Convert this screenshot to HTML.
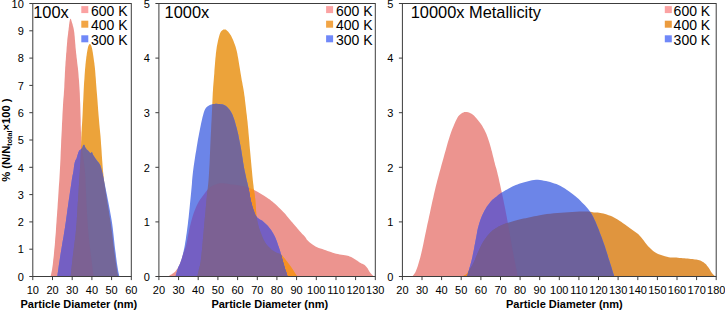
<!DOCTYPE html>
<html><head><meta charset="utf-8"><title>Particle size distributions</title>
<style>
html,body{margin:0;padding:0;background:#fff;}
body{width:725px;height:310px;overflow:hidden;font-family:"Liberation Sans",sans-serif;}
svg{display:block;}
</style></head><body>
<svg width="725" height="310" viewBox="0 0 725 310" font-family="'Liberation Sans', sans-serif">
<rect x="0" y="0" width="725" height="310" fill="#ffffff"/>
<defs>
<clipPath id="cr1"><path d="M50.5,276.5 L50.7,275.9 L50.9,275.0 L51.2,274.0 L51.4,272.8 L51.7,271.5 L52.0,270.0 L52.2,268.4 L52.5,266.6 L52.8,264.6 L53.0,262.5 L53.2,260.3 L53.5,258.0 L53.8,255.6 L54.0,253.1 L54.2,250.5 L54.5,247.8 L54.8,244.9 L55.0,242.0 L55.2,238.9 L55.5,235.7 L55.8,232.4 L56.0,229.0 L56.2,225.5 L56.5,222.0 L56.7,218.5 L57.0,215.1 L57.2,211.6 L57.5,208.0 L57.7,204.2 L58.0,200.0 L58.3,195.5 L58.6,190.8 L58.9,185.8 L59.3,180.7 L59.6,175.4 L59.9,170.0 L60.2,164.4 L60.5,158.5 L60.7,152.5 L61.0,146.5 L61.2,140.6 L61.5,135.0 L61.8,129.5 L62.0,124.1 L62.3,118.8 L62.5,113.7 L62.8,109.1 L63.0,105.0 L63.2,101.7 L63.4,99.1 L63.6,96.9 L63.8,94.8 L63.9,92.6 L64.1,90.0 L64.3,86.9 L64.4,83.4 L64.6,79.8 L64.8,76.3 L64.9,72.9 L65.1,70.0 L65.2,67.5 L65.4,65.3 L65.5,63.3 L65.6,61.5 L65.8,59.7 L65.9,58.0 L66.0,56.3 L66.1,54.8 L66.2,53.3 L66.4,51.9 L66.5,50.4 L66.6,48.8 L66.7,47.1 L66.9,45.2 L67.0,43.4 L67.2,41.5 L67.3,39.7 L67.5,38.0 L67.7,36.4 L67.9,34.9 L68.1,33.5 L68.2,32.1 L68.4,30.7 L68.6,29.4 L68.7,28.1 L68.9,26.9 L69.0,25.6 L69.1,24.5 L69.3,23.5 L69.4,22.5 L69.6,21.6 L69.7,20.7 L69.9,20.0 L70.1,19.3 L70.3,18.9 L70.5,18.7 L70.7,18.8 L70.9,19.1 L71.1,19.6 L71.3,20.3 L71.5,21.1 L71.8,22.0 L72.1,23.0 L72.5,24.1 L72.8,25.4 L73.2,26.7 L73.5,28.0 L73.8,29.4 L74.0,30.7 L74.2,32.1 L74.4,33.5 L74.5,34.9 L74.7,36.4 L74.8,38.0 L74.9,39.6 L75.1,41.4 L75.2,43.1 L75.4,45.0 L75.5,46.9 L75.7,48.8 L75.9,50.8 L76.1,53.0 L76.4,55.2 L76.6,57.4 L76.9,59.6 L77.1,61.6 L77.3,63.4 L77.5,65.0 L77.7,66.5 L77.9,68.1 L78.1,69.9 L78.3,72.0 L78.5,74.5 L78.7,77.4 L79.0,80.4 L79.2,83.6 L79.4,86.8 L79.6,90.0 L79.8,93.2 L79.9,96.5 L80.0,99.9 L80.2,103.3 L80.3,106.6 L80.4,110.0 L80.5,113.4 L80.6,116.9 L80.7,120.3 L80.7,123.7 L80.8,127.0 L80.9,130.0 L81.0,132.8 L81.0,135.4 L81.1,137.9 L81.2,140.3 L81.3,142.7 L81.5,145.0 L81.7,147.3 L82.0,149.4 L82.3,151.6 L82.7,153.7 L83.0,155.8 L83.3,158.0 L83.6,160.2 L83.9,162.4 L84.2,164.7 L84.5,167.0 L84.8,169.4 L85.0,172.0 L85.2,174.7 L85.4,177.5 L85.5,180.4 L85.6,183.5 L85.7,186.7 L85.9,190.0 L86.1,193.6 L86.2,197.4 L86.4,201.4 L86.6,205.4 L86.8,209.3 L87.0,213.0 L87.2,216.4 L87.4,219.7 L87.6,222.9 L87.8,226.0 L88.1,229.1 L88.3,232.0 L88.6,234.8 L88.8,237.6 L89.1,240.2 L89.4,242.8 L89.7,245.4 L90.0,248.0 L90.3,250.7 L90.7,253.5 L91.0,256.2 L91.4,258.9 L91.7,261.5 L92.0,264.0 L92.3,266.4 L92.6,268.9 L92.9,271.2 L93.2,273.4 L93.4,275.2 L93.6,276.5 Z"/></clipPath>
<clipPath id="co1"><path d="M70.6,276.5 L70.9,274.2 L71.2,271.1 L71.6,267.3 L72.1,263.2 L72.5,259.0 L73.0,255.0 L73.5,251.1 L74.0,247.1 L74.5,243.0 L75.1,238.8 L75.6,234.5 L76.0,230.0 L76.4,225.2 L76.8,220.2 L77.1,215.0 L77.4,209.8 L77.7,204.8 L78.0,200.0 L78.3,195.5 L78.6,191.3 L78.8,187.2 L79.1,183.1 L79.3,179.1 L79.6,175.0 L79.9,170.7 L80.1,166.3 L80.4,161.9 L80.6,157.6 L80.8,153.6 L81.0,150.0 L81.1,146.9 L81.2,144.3 L81.2,142.0 L81.3,139.8 L81.3,137.5 L81.4,135.0 L81.5,132.4 L81.7,129.9 L81.8,127.3 L82.0,124.6 L82.2,121.5 L82.4,118.0 L82.6,113.9 L82.8,109.2 L83.0,104.2 L83.3,99.1 L83.5,94.3 L83.7,90.0 L83.9,86.1 L84.1,82.4 L84.4,78.9 L84.6,75.6 L84.8,72.7 L85.0,70.0 L85.2,67.7 L85.4,65.8 L85.5,64.2 L85.7,62.8 L85.8,61.4 L86.0,60.0 L86.2,58.6 L86.3,57.3 L86.5,56.1 L86.7,54.9 L86.8,53.7 L87.0,52.6 L87.2,51.5 L87.4,50.3 L87.6,49.3 L87.8,48.2 L88.0,47.3 L88.2,46.5 L88.5,45.8 L88.7,45.2 L89.0,44.7 L89.3,44.3 L89.6,44.0 L89.9,43.9 L90.2,44.0 L90.5,44.3 L90.7,44.7 L91.0,45.2 L91.3,45.8 L91.5,46.5 L91.7,47.3 L92.0,48.2 L92.2,49.2 L92.4,50.3 L92.6,51.4 L92.8,52.6 L93.0,53.9 L93.2,55.2 L93.4,56.6 L93.6,58.1 L93.8,59.5 L94.0,61.0 L94.2,62.3 L94.4,63.5 L94.5,64.8 L94.7,66.2 L94.9,67.9 L95.1,70.0 L95.3,72.6 L95.5,75.5 L95.8,78.7 L96.0,82.2 L96.3,86.0 L96.6,90.0 L97.0,94.5 L97.4,99.6 L97.8,105.0 L98.2,110.4 L98.6,115.5 L99.0,120.0 L99.3,123.8 L99.6,127.0 L99.9,129.9 L100.2,132.9 L100.5,136.1 L100.8,140.0 L101.1,144.6 L101.5,149.7 L101.8,155.1 L102.2,160.6 L102.6,166.0 L103.0,171.0 L103.5,175.6 L104.0,180.0 L104.6,184.2 L105.2,188.4 L105.8,192.6 L106.5,197.0 L107.2,201.6 L108.0,206.2 L108.8,210.9 L109.5,215.7 L110.3,220.4 L111.0,225.0 L111.6,229.7 L112.3,234.5 L112.8,239.2 L113.4,243.9 L113.9,248.1 L114.4,252.0 L114.9,255.4 L115.3,258.4 L115.7,261.2 L116.0,263.6 L116.4,265.9 L116.7,268.0 L117.0,269.9 L117.3,271.7 L117.6,273.2 L117.9,274.6 L118.1,275.7 L118.3,276.5 Z"/></clipPath>
<clipPath id="cr2"><path d="M167.8,276.5 L168.0,276.4 L168.4,276.2 L168.8,275.9 L169.2,275.7 L169.6,275.4 L170.0,275.2 L170.4,275.0 L170.7,274.8 L171.1,274.6 L171.4,274.4 L171.8,274.2 L172.2,273.9 L172.6,273.6 L173.1,273.3 L173.6,273.0 L174.0,272.6 L174.5,272.3 L174.9,271.9 L175.3,271.5 L175.7,271.0 L176.0,270.6 L176.4,270.1 L176.7,269.6 L177.0,269.2 L177.3,268.9 L177.5,268.6 L177.6,268.3 L177.8,268.0 L178.0,267.6 L178.3,267.1 L178.6,266.5 L179.0,265.7 L179.3,264.9 L179.7,264.0 L180.1,263.0 L180.5,262.0 L180.9,260.9 L181.3,259.8 L181.7,258.5 L182.1,257.3 L182.5,255.9 L183.0,254.5 L183.5,253.0 L184.0,251.5 L184.6,249.9 L185.2,248.3 L185.7,246.5 L186.2,244.7 L186.7,242.8 L187.1,240.8 L187.5,238.7 L187.9,236.5 L188.3,234.2 L188.8,231.9 L189.3,229.4 L189.9,226.8 L190.5,224.2 L191.2,221.5 L191.9,218.9 L192.6,216.4 L193.4,214.0 L194.2,211.7 L195.1,209.5 L196.0,207.3 L196.9,205.3 L197.8,203.5 L198.6,201.9 L199.5,200.6 L200.3,199.3 L201.1,198.2 L202.0,197.0 L202.9,195.8 L203.9,194.5 L205.0,193.1 L206.1,191.6 L207.2,190.3 L208.3,189.1 L209.4,188.0 L210.5,187.1 L211.5,186.4 L212.6,185.8 L213.7,185.3 L214.7,184.8 L215.8,184.4 L216.8,184.0 L217.8,183.7 L218.8,183.5 L219.8,183.3 L220.9,183.2 L222.0,183.2 L223.2,183.2 L224.5,183.4 L225.9,183.6 L227.3,183.8 L228.6,184.0 L230.0,184.2 L231.3,184.4 L232.6,184.5 L233.9,184.7 L235.2,184.8 L236.6,185.1 L238.0,185.3 L239.5,185.6 L241.2,185.9 L242.9,186.3 L244.6,186.6 L246.2,187.0 L247.8,187.5 L249.2,188.0 L250.6,188.5 L251.9,189.0 L253.2,189.6 L254.6,190.3 L256.0,191.0 L257.5,191.8 L259.1,192.7 L260.8,193.7 L262.4,194.7 L264.1,195.7 L265.6,196.7 L267.1,197.7 L268.5,198.7 L269.8,199.6 L271.2,200.7 L272.6,201.8 L274.0,203.0 L275.5,204.3 L277.1,205.8 L278.8,207.4 L280.4,208.9 L281.9,210.4 L283.3,211.9 L284.6,213.3 L285.7,214.6 L286.8,215.9 L287.9,217.2 L288.9,218.5 L290.0,219.8 L291.2,221.2 L292.4,222.6 L293.6,224.0 L294.7,225.3 L295.8,226.5 L296.7,227.6 L297.4,228.5 L298.0,229.1 L298.5,229.7 L298.9,230.2 L299.4,230.8 L300.0,231.5 L300.8,232.3 L301.6,233.2 L302.5,234.2 L303.4,235.1 L304.3,236.0 L305.0,236.8 L305.5,237.5 L305.9,238.1 L306.2,238.6 L306.5,239.2 L307.0,239.8 L307.7,240.5 L308.7,241.4 L309.8,242.4 L311.1,243.5 L312.5,244.6 L314.0,245.6 L315.5,246.5 L317.1,247.3 L318.7,247.9 L320.5,248.6 L322.3,249.1 L324.1,249.7 L325.8,250.3 L327.5,250.9 L329.2,251.5 L330.9,252.1 L332.7,252.7 L334.4,253.2 L336.1,253.7 L337.9,254.1 L339.7,254.4 L341.6,254.7 L343.4,254.9 L345.0,255.2 L346.5,255.5 L347.7,255.8 L348.7,256.1 L349.6,256.4 L350.4,256.8 L351.2,257.1 L352.0,257.5 L352.9,257.9 L353.7,258.4 L354.5,258.9 L355.3,259.4 L356.1,259.9 L356.8,260.4 L357.4,260.8 L357.9,261.2 L358.4,261.6 L358.9,262.0 L359.4,262.3 L360.0,262.7 L360.7,263.1 L361.4,263.4 L362.2,263.7 L362.9,264.0 L363.7,264.4 L364.3,264.8 L364.9,265.2 L365.4,265.7 L365.8,266.2 L366.3,266.7 L366.7,267.2 L367.1,267.7 L367.5,268.3 L367.9,268.8 L368.2,269.5 L368.5,270.1 L368.9,270.7 L369.2,271.2 L369.5,271.7 L369.9,272.2 L370.2,272.7 L370.5,273.1 L370.9,273.6 L371.3,274.0 L371.8,274.5 L372.3,274.9 L372.9,275.4 L373.4,275.9 L373.9,276.2 L374.2,276.5 Z"/></clipPath>
<clipPath id="co2"><path d="M197.3,276.5 L197.5,275.7 L197.7,274.6 L198.0,273.4 L198.3,272.0 L198.7,270.5 L199.0,269.0 L199.3,267.8 L199.6,266.8 L199.9,265.8 L200.2,264.4 L200.6,262.2 L201.0,259.0 L201.5,254.4 L202.1,248.6 L202.7,242.1 L203.3,235.4 L203.9,228.8 L204.4,223.0 L204.9,217.8 L205.4,212.8 L205.8,208.0 L206.2,203.4 L206.6,199.1 L207.0,195.0 L207.4,191.4 L207.7,188.5 L208.0,185.8 L208.3,182.9 L208.6,179.4 L208.9,175.0 L209.2,169.4 L209.6,162.7 L209.9,155.5 L210.2,148.2 L210.5,141.2 L210.8,135.0 L211.1,129.5 L211.3,124.3 L211.6,119.4 L211.8,114.9 L212.0,110.7 L212.2,107.0 L212.3,103.8 L212.4,101.2 L212.5,98.9 L212.6,96.8 L212.7,94.8 L212.8,92.5 L213.0,90.1 L213.1,87.7 L213.3,85.2 L213.5,82.8 L213.7,80.4 L213.9,78.0 L214.1,75.6 L214.3,73.2 L214.4,70.8 L214.6,68.3 L214.8,65.9 L215.0,63.5 L215.2,61.0 L215.4,58.6 L215.7,56.1 L215.9,53.6 L216.2,51.2 L216.5,49.0 L216.8,46.8 L217.2,44.7 L217.6,42.7 L218.0,40.7 L218.4,39.0 L218.8,37.4 L219.2,36.0 L219.5,34.9 L219.8,33.9 L220.2,33.0 L220.6,32.2 L221.0,31.5 L221.5,30.9 L222.1,30.4 L222.7,29.9 L223.4,29.6 L224.0,29.5 L224.6,29.4 L225.2,29.5 L225.7,29.6 L226.3,29.9 L226.8,30.4 L227.4,30.9 L228.0,31.5 L228.6,32.2 L229.2,33.0 L229.9,33.9 L230.6,34.9 L231.2,36.0 L231.9,37.4 L232.6,39.0 L233.4,40.7 L234.1,42.7 L234.9,44.7 L235.6,46.8 L236.2,49.0 L236.8,51.2 L237.3,53.6 L237.7,56.1 L238.2,58.6 L238.6,61.0 L239.0,63.5 L239.4,65.9 L239.8,68.3 L240.2,70.8 L240.6,73.2 L241.0,75.6 L241.4,78.0 L241.8,80.4 L242.3,82.8 L242.7,85.2 L243.2,87.7 L243.6,90.1 L244.0,92.5 L244.3,94.9 L244.7,97.2 L244.9,99.5 L245.2,101.9 L245.5,104.4 L245.8,107.0 L246.1,109.7 L246.4,112.5 L246.8,115.3 L247.1,118.4 L247.5,121.6 L247.8,125.0 L248.2,128.8 L248.5,132.8 L248.9,137.1 L249.3,141.4 L249.6,145.8 L250.0,150.0 L250.4,154.3 L250.8,158.7 L251.2,163.1 L251.6,167.4 L252.0,171.4 L252.3,175.0 L252.6,178.1 L252.9,180.9 L253.2,183.4 L253.5,185.7 L253.7,187.9 L254.0,190.0 L254.2,191.9 L254.5,193.5 L254.7,194.9 L254.9,196.3 L255.1,198.0 L255.3,200.0 L255.5,202.5 L255.7,205.3 L255.9,208.3 L256.1,211.3 L256.3,214.2 L256.6,216.8 L256.9,219.0 L257.3,221.0 L257.7,222.8 L258.1,224.6 L258.6,226.5 L259.2,228.4 L259.9,230.5 L260.7,232.8 L261.6,235.1 L262.5,237.3 L263.4,239.4 L264.4,241.3 L265.4,242.9 L266.5,244.4 L267.6,245.8 L268.7,247.0 L269.8,248.1 L270.8,249.1 L271.7,249.9 L272.6,250.6 L273.5,251.1 L274.3,251.6 L275.1,252.0 L276.0,252.5 L276.9,252.9 L277.7,253.2 L278.6,253.5 L279.5,253.8 L280.3,254.2 L281.2,254.8 L282.1,255.6 L282.9,256.5 L283.7,257.5 L284.6,258.5 L285.4,259.6 L286.3,260.7 L287.2,261.8 L288.0,262.9 L288.9,264.1 L289.8,265.3 L290.7,266.5 L291.5,267.7 L292.4,269.0 L293.2,270.3 L294.1,271.7 L294.9,273.0 L295.6,274.1 L296.2,275.0 L296.6,275.6 L296.9,276.0 L297.1,276.2 L297.3,276.3 L297.4,276.4 L297.5,276.5 Z"/></clipPath>
<clipPath id="cr3"><path d="M412.3,276.5 L412.7,276.0 L413.2,275.3 L413.9,274.6 L414.6,273.5 L415.4,272.2 L416.1,270.6 L416.9,268.6 L417.7,266.2 L418.5,263.6 L419.3,260.7 L420.2,257.7 L421.0,254.5 L421.8,251.1 L422.6,247.5 L423.4,243.7 L424.2,239.7 L425.0,235.8 L425.8,232.0 L426.6,228.2 L427.4,224.3 L428.3,220.4 L429.1,216.6 L429.9,212.9 L430.6,209.4 L431.3,206.2 L432.0,203.1 L432.6,200.2 L433.3,197.4 L433.9,194.6 L434.5,192.0 L435.1,189.5 L435.6,187.3 L436.1,185.2 L436.7,183.0 L437.3,180.6 L438.0,178.0 L438.8,175.0 L439.6,171.9 L440.6,168.5 L441.5,165.1 L442.5,161.5 L443.5,158.0 L444.5,154.3 L445.6,150.4 L446.7,146.5 L447.8,142.6 L448.9,138.9 L450.0,135.5 L451.1,132.3 L452.2,129.3 L453.4,126.4 L454.5,123.8 L455.5,121.4 L456.5,119.4 L457.4,117.8 L458.1,116.6 L458.8,115.7 L459.5,115.0 L460.2,114.4 L461.0,113.8 L461.8,113.2 L462.6,112.7 L463.5,112.4 L464.3,112.1 L465.2,111.9 L466.1,111.9 L467.0,112.0 L468.0,112.2 L469.0,112.5 L470.0,112.9 L471.0,113.4 L472.0,114.0 L472.9,114.7 L473.9,115.5 L474.8,116.4 L475.7,117.4 L476.6,118.4 L477.4,119.4 L478.2,120.4 L479.0,121.4 L479.8,122.4 L480.6,123.4 L481.3,124.5 L482.0,125.6 L482.7,126.7 L483.3,127.9 L484.0,129.0 L484.6,130.3 L485.2,131.5 L485.8,132.8 L486.4,134.1 L486.9,135.5 L487.5,137.0 L488.0,138.4 L488.5,140.0 L489.0,141.5 L489.5,143.1 L490.0,144.8 L490.5,146.5 L491.0,148.2 L491.4,149.9 L491.9,151.6 L492.3,153.2 L492.7,154.9 L493.1,156.5 L493.5,158.1 L493.9,159.8 L494.3,161.5 L494.8,163.2 L495.2,165.0 L495.7,166.7 L496.3,168.5 L496.8,170.5 L497.3,172.5 L497.8,174.7 L498.4,176.9 L498.9,179.2 L499.4,181.7 L500.0,184.3 L500.6,187.0 L501.2,189.9 L501.9,193.0 L502.6,196.2 L503.3,199.5 L503.9,202.8 L504.6,206.0 L505.2,209.1 L505.8,212.2 L506.4,215.3 L507.0,218.4 L507.6,221.7 L508.2,225.0 L508.8,228.6 L509.5,232.3 L510.1,236.1 L510.8,239.9 L511.4,243.6 L512.0,247.0 L512.6,250.2 L513.2,253.2 L513.7,256.1 L514.3,258.9 L514.8,261.5 L515.3,264.0 L515.8,266.5 L516.3,269.0 L516.8,271.3 L517.2,273.4 L517.5,275.2 L517.8,276.5 Z"/></clipPath>
<clipPath id="co3"><path d="M462.0,276.5 L462.5,276.3 L463.1,276.0 L463.8,275.7 L464.6,275.3 L465.4,274.9 L466.0,274.5 L466.5,274.1 L466.9,273.7 L467.2,273.4 L467.5,272.9 L468.0,272.2 L468.5,271.4 L469.2,270.3 L470.0,269.1 L470.8,267.8 L471.7,266.3 L472.6,264.7 L473.5,263.0 L474.3,261.2 L475.2,259.2 L476.0,257.1 L476.9,255.0 L477.7,252.9 L478.6,251.0 L479.4,249.2 L480.2,247.5 L481.1,245.8 L481.9,244.1 L482.8,242.6 L483.7,241.0 L484.7,239.5 L485.8,237.9 L486.9,236.4 L488.1,235.0 L489.3,233.7 L490.4,232.5 L491.5,231.4 L492.5,230.5 L493.6,229.7 L494.7,228.9 L495.9,228.2 L497.2,227.4 L498.7,226.6 L500.3,225.8 L502.0,225.1 L503.8,224.3 L505.6,223.6 L507.3,223.0 L509.0,222.4 L510.6,221.9 L512.2,221.4 L513.9,220.9 L515.7,220.5 L517.5,220.0 L519.4,219.5 L521.4,219.1 L523.5,218.6 L525.7,218.2 L527.8,217.8 L530.0,217.3 L532.1,216.8 L534.2,216.3 L536.4,215.9 L538.6,215.4 L541.1,214.9 L543.8,214.5 L546.9,214.1 L550.3,213.7 L553.9,213.3 L557.5,213.0 L561.2,212.7 L564.8,212.4 L568.4,212.2 L572.2,211.9 L576.0,211.8 L579.7,211.6 L582.9,211.5 L585.7,211.5 L587.8,211.5 L589.4,211.7 L590.7,211.8 L591.7,212.0 L592.8,212.2 L594.0,212.4 L595.3,212.5 L596.5,212.6 L597.8,212.6 L599.0,212.7 L600.4,212.9 L601.8,213.2 L603.4,213.6 L605.1,214.0 L606.8,214.6 L608.6,215.2 L610.4,215.8 L612.2,216.6 L614.0,217.5 L615.8,218.5 L617.6,219.6 L619.4,220.7 L621.1,221.8 L622.7,222.9 L624.2,223.9 L625.7,224.9 L627.0,225.9 L628.4,227.0 L629.7,228.0 L631.1,229.0 L632.5,230.0 L633.9,231.0 L635.3,231.9 L636.7,233.0 L638.1,234.1 L639.5,235.4 L640.9,237.0 L642.3,238.7 L643.7,240.6 L645.1,242.5 L646.5,244.3 L647.9,245.9 L649.2,247.3 L650.5,248.6 L651.8,249.8 L653.1,251.0 L654.6,252.0 L656.2,253.0 L658.1,253.9 L660.3,254.8 L662.6,255.5 L664.9,256.2 L667.0,256.8 L668.8,257.2 L670.2,257.5 L671.2,257.6 L672.1,257.6 L672.9,257.5 L673.9,257.5 L675.0,257.5 L676.4,257.6 L677.9,257.7 L679.5,257.9 L681.2,258.0 L682.8,258.2 L684.4,258.3 L686.0,258.4 L687.6,258.6 L689.2,258.7 L690.8,258.9 L692.3,259.0 L693.7,259.2 L695.0,259.4 L696.2,259.6 L697.3,259.8 L698.3,260.0 L699.3,260.3 L700.3,260.6 L701.2,261.0 L702.1,261.4 L702.9,261.9 L703.6,262.3 L704.3,262.9 L705.0,263.4 L705.6,264.0 L706.2,264.6 L706.7,265.2 L707.2,265.9 L707.7,266.6 L708.2,267.2 L708.7,267.8 L709.1,268.5 L709.5,269.1 L709.9,269.7 L710.2,270.3 L710.6,270.9 L710.9,271.4 L711.2,271.9 L711.5,272.4 L711.8,272.8 L712.1,273.2 L712.5,273.7 L712.9,274.2 L713.5,274.7 L714.0,275.3 L714.5,275.8 L715.0,276.2 L715.3,276.5 Z"/></clipPath>
</defs>
<path d="M50.5,276.5 L50.7,275.9 L50.9,275.0 L51.2,274.0 L51.4,272.8 L51.7,271.5 L52.0,270.0 L52.2,268.4 L52.5,266.6 L52.8,264.6 L53.0,262.5 L53.2,260.3 L53.5,258.0 L53.8,255.6 L54.0,253.1 L54.2,250.5 L54.5,247.8 L54.8,244.9 L55.0,242.0 L55.2,238.9 L55.5,235.7 L55.8,232.4 L56.0,229.0 L56.2,225.5 L56.5,222.0 L56.7,218.5 L57.0,215.1 L57.2,211.6 L57.5,208.0 L57.7,204.2 L58.0,200.0 L58.3,195.5 L58.6,190.8 L58.9,185.8 L59.3,180.7 L59.6,175.4 L59.9,170.0 L60.2,164.4 L60.5,158.5 L60.7,152.5 L61.0,146.5 L61.2,140.6 L61.5,135.0 L61.8,129.5 L62.0,124.1 L62.3,118.8 L62.5,113.7 L62.8,109.1 L63.0,105.0 L63.2,101.7 L63.4,99.1 L63.6,96.9 L63.8,94.8 L63.9,92.6 L64.1,90.0 L64.3,86.9 L64.4,83.4 L64.6,79.8 L64.8,76.3 L64.9,72.9 L65.1,70.0 L65.2,67.5 L65.4,65.3 L65.5,63.3 L65.6,61.5 L65.8,59.7 L65.9,58.0 L66.0,56.3 L66.1,54.8 L66.2,53.3 L66.4,51.9 L66.5,50.4 L66.6,48.8 L66.7,47.1 L66.9,45.2 L67.0,43.4 L67.2,41.5 L67.3,39.7 L67.5,38.0 L67.7,36.4 L67.9,34.9 L68.1,33.5 L68.2,32.1 L68.4,30.7 L68.6,29.4 L68.7,28.1 L68.9,26.9 L69.0,25.6 L69.1,24.5 L69.3,23.5 L69.4,22.5 L69.6,21.6 L69.7,20.7 L69.9,20.0 L70.1,19.3 L70.3,18.9 L70.5,18.7 L70.7,18.8 L70.9,19.1 L71.1,19.6 L71.3,20.3 L71.5,21.1 L71.8,22.0 L72.1,23.0 L72.5,24.1 L72.8,25.4 L73.2,26.7 L73.5,28.0 L73.8,29.4 L74.0,30.7 L74.2,32.1 L74.4,33.5 L74.5,34.9 L74.7,36.4 L74.8,38.0 L74.9,39.6 L75.1,41.4 L75.2,43.1 L75.4,45.0 L75.5,46.9 L75.7,48.8 L75.9,50.8 L76.1,53.0 L76.4,55.2 L76.6,57.4 L76.9,59.6 L77.1,61.6 L77.3,63.4 L77.5,65.0 L77.7,66.5 L77.9,68.1 L78.1,69.9 L78.3,72.0 L78.5,74.5 L78.7,77.4 L79.0,80.4 L79.2,83.6 L79.4,86.8 L79.6,90.0 L79.8,93.2 L79.9,96.5 L80.0,99.9 L80.2,103.3 L80.3,106.6 L80.4,110.0 L80.5,113.4 L80.6,116.9 L80.7,120.3 L80.7,123.7 L80.8,127.0 L80.9,130.0 L81.0,132.8 L81.0,135.4 L81.1,137.9 L81.2,140.3 L81.3,142.7 L81.5,145.0 L81.7,147.3 L82.0,149.4 L82.3,151.6 L82.7,153.7 L83.0,155.8 L83.3,158.0 L83.6,160.2 L83.9,162.4 L84.2,164.7 L84.5,167.0 L84.8,169.4 L85.0,172.0 L85.2,174.7 L85.4,177.5 L85.5,180.4 L85.6,183.5 L85.7,186.7 L85.9,190.0 L86.1,193.6 L86.2,197.4 L86.4,201.4 L86.6,205.4 L86.8,209.3 L87.0,213.0 L87.2,216.4 L87.4,219.7 L87.6,222.9 L87.8,226.0 L88.1,229.1 L88.3,232.0 L88.6,234.8 L88.8,237.6 L89.1,240.2 L89.4,242.8 L89.7,245.4 L90.0,248.0 L90.3,250.7 L90.7,253.5 L91.0,256.2 L91.4,258.9 L91.7,261.5 L92.0,264.0 L92.3,266.4 L92.6,268.9 L92.9,271.2 L93.2,273.4 L93.4,275.2 L93.6,276.5 Z" fill="rgb(236,148,143)"/>
<path d="M70.6,276.5 L70.9,274.2 L71.2,271.1 L71.6,267.3 L72.1,263.2 L72.5,259.0 L73.0,255.0 L73.5,251.1 L74.0,247.1 L74.5,243.0 L75.1,238.8 L75.6,234.5 L76.0,230.0 L76.4,225.2 L76.8,220.2 L77.1,215.0 L77.4,209.8 L77.7,204.8 L78.0,200.0 L78.3,195.5 L78.6,191.3 L78.8,187.2 L79.1,183.1 L79.3,179.1 L79.6,175.0 L79.9,170.7 L80.1,166.3 L80.4,161.9 L80.6,157.6 L80.8,153.6 L81.0,150.0 L81.1,146.9 L81.2,144.3 L81.2,142.0 L81.3,139.8 L81.3,137.5 L81.4,135.0 L81.5,132.4 L81.7,129.9 L81.8,127.3 L82.0,124.6 L82.2,121.5 L82.4,118.0 L82.6,113.9 L82.8,109.2 L83.0,104.2 L83.3,99.1 L83.5,94.3 L83.7,90.0 L83.9,86.1 L84.1,82.4 L84.4,78.9 L84.6,75.6 L84.8,72.7 L85.0,70.0 L85.2,67.7 L85.4,65.8 L85.5,64.2 L85.7,62.8 L85.8,61.4 L86.0,60.0 L86.2,58.6 L86.3,57.3 L86.5,56.1 L86.7,54.9 L86.8,53.7 L87.0,52.6 L87.2,51.5 L87.4,50.3 L87.6,49.3 L87.8,48.2 L88.0,47.3 L88.2,46.5 L88.5,45.8 L88.7,45.2 L89.0,44.7 L89.3,44.3 L89.6,44.0 L89.9,43.9 L90.2,44.0 L90.5,44.3 L90.7,44.7 L91.0,45.2 L91.3,45.8 L91.5,46.5 L91.7,47.3 L92.0,48.2 L92.2,49.2 L92.4,50.3 L92.6,51.4 L92.8,52.6 L93.0,53.9 L93.2,55.2 L93.4,56.6 L93.6,58.1 L93.8,59.5 L94.0,61.0 L94.2,62.3 L94.4,63.5 L94.5,64.8 L94.7,66.2 L94.9,67.9 L95.1,70.0 L95.3,72.6 L95.5,75.5 L95.8,78.7 L96.0,82.2 L96.3,86.0 L96.6,90.0 L97.0,94.5 L97.4,99.6 L97.8,105.0 L98.2,110.4 L98.6,115.5 L99.0,120.0 L99.3,123.8 L99.6,127.0 L99.9,129.9 L100.2,132.9 L100.5,136.1 L100.8,140.0 L101.1,144.6 L101.5,149.7 L101.8,155.1 L102.2,160.6 L102.6,166.0 L103.0,171.0 L103.5,175.6 L104.0,180.0 L104.6,184.2 L105.2,188.4 L105.8,192.6 L106.5,197.0 L107.2,201.6 L108.0,206.2 L108.8,210.9 L109.5,215.7 L110.3,220.4 L111.0,225.0 L111.6,229.7 L112.3,234.5 L112.8,239.2 L113.4,243.9 L113.9,248.1 L114.4,252.0 L114.9,255.4 L115.3,258.4 L115.7,261.2 L116.0,263.6 L116.4,265.9 L116.7,268.0 L117.0,269.9 L117.3,271.7 L117.6,273.2 L117.9,274.6 L118.1,275.7 L118.3,276.5 Z" fill="rgb(236,163,58)"/>
<path d="M70.6,276.5 L70.9,274.2 L71.2,271.1 L71.6,267.3 L72.1,263.2 L72.5,259.0 L73.0,255.0 L73.5,251.1 L74.0,247.1 L74.5,243.0 L75.1,238.8 L75.6,234.5 L76.0,230.0 L76.4,225.2 L76.8,220.2 L77.1,215.0 L77.4,209.8 L77.7,204.8 L78.0,200.0 L78.3,195.5 L78.6,191.3 L78.8,187.2 L79.1,183.1 L79.3,179.1 L79.6,175.0 L79.9,170.7 L80.1,166.3 L80.4,161.9 L80.6,157.6 L80.8,153.6 L81.0,150.0 L81.1,146.9 L81.2,144.3 L81.2,142.0 L81.3,139.8 L81.3,137.5 L81.4,135.0 L81.5,132.4 L81.7,129.9 L81.8,127.3 L82.0,124.6 L82.2,121.5 L82.4,118.0 L82.6,113.9 L82.8,109.2 L83.0,104.2 L83.3,99.1 L83.5,94.3 L83.7,90.0 L83.9,86.1 L84.1,82.4 L84.4,78.9 L84.6,75.6 L84.8,72.7 L85.0,70.0 L85.2,67.7 L85.4,65.8 L85.5,64.2 L85.7,62.8 L85.8,61.4 L86.0,60.0 L86.2,58.6 L86.3,57.3 L86.5,56.1 L86.7,54.9 L86.8,53.7 L87.0,52.6 L87.2,51.5 L87.4,50.3 L87.6,49.3 L87.8,48.2 L88.0,47.3 L88.2,46.5 L88.5,45.8 L88.7,45.2 L89.0,44.7 L89.3,44.3 L89.6,44.0 L89.9,43.9 L90.2,44.0 L90.5,44.3 L90.7,44.7 L91.0,45.2 L91.3,45.8 L91.5,46.5 L91.7,47.3 L92.0,48.2 L92.2,49.2 L92.4,50.3 L92.6,51.4 L92.8,52.6 L93.0,53.9 L93.2,55.2 L93.4,56.6 L93.6,58.1 L93.8,59.5 L94.0,61.0 L94.2,62.3 L94.4,63.5 L94.5,64.8 L94.7,66.2 L94.9,67.9 L95.1,70.0 L95.3,72.6 L95.5,75.5 L95.8,78.7 L96.0,82.2 L96.3,86.0 L96.6,90.0 L97.0,94.5 L97.4,99.6 L97.8,105.0 L98.2,110.4 L98.6,115.5 L99.0,120.0 L99.3,123.8 L99.6,127.0 L99.9,129.9 L100.2,132.9 L100.5,136.1 L100.8,140.0 L101.1,144.6 L101.5,149.7 L101.8,155.1 L102.2,160.6 L102.6,166.0 L103.0,171.0 L103.5,175.6 L104.0,180.0 L104.6,184.2 L105.2,188.4 L105.8,192.6 L106.5,197.0 L107.2,201.6 L108.0,206.2 L108.8,210.9 L109.5,215.7 L110.3,220.4 L111.0,225.0 L111.6,229.7 L112.3,234.5 L112.8,239.2 L113.4,243.9 L113.9,248.1 L114.4,252.0 L114.9,255.4 L115.3,258.4 L115.7,261.2 L116.0,263.6 L116.4,265.9 L116.7,268.0 L117.0,269.9 L117.3,271.7 L117.6,273.2 L117.9,274.6 L118.1,275.7 L118.3,276.5 Z" fill="rgb(246,144,36)" clip-path="url(#cr1)"/>
<path d="M57.3,276.5 L57.5,275.4 L57.6,273.9 L57.9,272.0 L58.2,270.0 L58.5,267.8 L58.8,265.5 L59.2,263.1 L59.6,260.5 L60.0,257.8 L60.4,254.9 L60.9,252.0 L61.4,249.0 L61.9,245.9 L62.4,242.8 L63.0,239.6 L63.6,236.3 L64.1,232.8 L64.7,229.3 L65.2,225.7 L65.8,221.9 L66.3,218.0 L66.9,214.1 L67.4,210.1 L68.0,206.0 L68.6,201.6 L69.3,196.9 L70.0,192.1 L70.7,187.5 L71.3,183.4 L71.8,180.0 L72.2,177.5 L72.5,175.8 L72.8,174.5 L73.0,173.5 L73.2,172.5 L73.4,171.3 L73.6,170.0 L73.8,168.6 L73.9,167.3 L74.1,166.1 L74.2,165.0 L74.4,164.0 L74.6,163.2 L74.7,162.5 L74.9,161.9 L75.1,161.4 L75.2,160.9 L75.4,160.4 L75.6,160.0 L75.8,159.7 L76.0,159.4 L76.2,159.1 L76.4,158.7 L76.6,158.2 L76.8,157.5 L77.1,156.6 L77.3,155.7 L77.6,154.7 L77.9,153.9 L78.1,153.1 L78.3,152.5 L78.5,151.9 L78.8,151.4 L79.0,151.0 L79.2,150.6 L79.5,150.2 L79.8,149.9 L80.2,149.7 L80.6,149.5 L81.0,149.4 L81.4,149.1 L81.7,148.8 L82.0,148.3 L82.2,147.7 L82.5,147.0 L82.7,146.4 L82.9,145.8 L83.1,145.4 L83.3,145.1 L83.5,144.9 L83.7,144.8 L83.9,144.7 L84.1,144.8 L84.3,144.9 L84.5,145.1 L84.6,145.5 L84.8,145.9 L84.9,146.4 L85.1,146.9 L85.3,147.3 L85.5,147.7 L85.8,148.1 L86.0,148.5 L86.3,148.8 L86.5,149.2 L86.8,149.5 L87.0,149.8 L87.3,150.0 L87.5,150.1 L87.7,150.3 L88.0,150.5 L88.2,150.7 L88.4,151.0 L88.7,151.3 L89.0,151.6 L89.2,151.9 L89.5,152.2 L89.7,152.4 L89.9,152.6 L90.1,152.8 L90.3,152.9 L90.4,153.0 L90.6,153.1 L90.8,153.1 L91.0,153.0 L91.2,152.8 L91.4,152.5 L91.5,152.2 L91.7,152.1 L91.9,152.1 L92.1,152.3 L92.2,152.7 L92.4,153.1 L92.5,153.6 L92.7,154.1 L92.9,154.6 L93.2,155.1 L93.5,155.5 L93.8,156.0 L94.1,156.5 L94.5,157.0 L94.8,157.5 L95.1,158.0 L95.5,158.5 L95.8,158.9 L96.2,159.4 L96.5,159.9 L96.9,160.4 L97.3,160.9 L97.7,161.4 L98.0,161.9 L98.4,162.3 L98.8,162.8 L99.1,163.3 L99.4,163.8 L99.7,164.2 L99.9,164.6 L100.1,165.1 L100.4,165.6 L100.6,166.2 L100.8,166.9 L101.1,167.7 L101.3,168.5 L101.5,169.4 L101.8,170.3 L102.0,171.3 L102.2,172.2 L102.4,172.9 L102.6,173.7 L102.8,174.7 L103.1,176.1 L103.5,178.0 L104.0,180.5 L104.6,183.5 L105.3,186.8 L106.0,190.4 L106.8,194.2 L107.5,198.0 L108.3,202.0 L109.1,206.2 L109.9,210.6 L110.7,215.1 L111.5,219.6 L112.2,224.0 L112.8,228.4 L113.3,233.0 L113.8,237.5 L114.3,241.9 L114.7,246.1 L115.2,250.0 L115.7,253.6 L116.1,256.9 L116.5,260.1 L116.9,263.0 L117.3,265.6 L117.7,268.0 L118.0,270.1 L118.4,271.9 L118.7,273.4 L119.0,274.6 L119.2,275.7 L119.4,276.5 Z" fill="rgb(108,133,232)"/>
<path d="M57.3,276.5 L57.5,275.4 L57.6,273.9 L57.9,272.0 L58.2,270.0 L58.5,267.8 L58.8,265.5 L59.2,263.1 L59.6,260.5 L60.0,257.8 L60.4,254.9 L60.9,252.0 L61.4,249.0 L61.9,245.9 L62.4,242.8 L63.0,239.6 L63.6,236.3 L64.1,232.8 L64.7,229.3 L65.2,225.7 L65.8,221.9 L66.3,218.0 L66.9,214.1 L67.4,210.1 L68.0,206.0 L68.6,201.6 L69.3,196.9 L70.0,192.1 L70.7,187.5 L71.3,183.4 L71.8,180.0 L72.2,177.5 L72.5,175.8 L72.8,174.5 L73.0,173.5 L73.2,172.5 L73.4,171.3 L73.6,170.0 L73.8,168.6 L73.9,167.3 L74.1,166.1 L74.2,165.0 L74.4,164.0 L74.6,163.2 L74.7,162.5 L74.9,161.9 L75.1,161.4 L75.2,160.9 L75.4,160.4 L75.6,160.0 L75.8,159.7 L76.0,159.4 L76.2,159.1 L76.4,158.7 L76.6,158.2 L76.8,157.5 L77.1,156.6 L77.3,155.7 L77.6,154.7 L77.9,153.9 L78.1,153.1 L78.3,152.5 L78.5,151.9 L78.8,151.4 L79.0,151.0 L79.2,150.6 L79.5,150.2 L79.8,149.9 L80.2,149.7 L80.6,149.5 L81.0,149.4 L81.4,149.1 L81.7,148.8 L82.0,148.3 L82.2,147.7 L82.5,147.0 L82.7,146.4 L82.9,145.8 L83.1,145.4 L83.3,145.1 L83.5,144.9 L83.7,144.8 L83.9,144.7 L84.1,144.8 L84.3,144.9 L84.5,145.1 L84.6,145.5 L84.8,145.9 L84.9,146.4 L85.1,146.9 L85.3,147.3 L85.5,147.7 L85.8,148.1 L86.0,148.5 L86.3,148.8 L86.5,149.2 L86.8,149.5 L87.0,149.8 L87.3,150.0 L87.5,150.1 L87.7,150.3 L88.0,150.5 L88.2,150.7 L88.4,151.0 L88.7,151.3 L89.0,151.6 L89.2,151.9 L89.5,152.2 L89.7,152.4 L89.9,152.6 L90.1,152.8 L90.3,152.9 L90.4,153.0 L90.6,153.1 L90.8,153.1 L91.0,153.0 L91.2,152.8 L91.4,152.5 L91.5,152.2 L91.7,152.1 L91.9,152.1 L92.1,152.3 L92.2,152.7 L92.4,153.1 L92.5,153.6 L92.7,154.1 L92.9,154.6 L93.2,155.1 L93.5,155.5 L93.8,156.0 L94.1,156.5 L94.5,157.0 L94.8,157.5 L95.1,158.0 L95.5,158.5 L95.8,158.9 L96.2,159.4 L96.5,159.9 L96.9,160.4 L97.3,160.9 L97.7,161.4 L98.0,161.9 L98.4,162.3 L98.8,162.8 L99.1,163.3 L99.4,163.8 L99.7,164.2 L99.9,164.6 L100.1,165.1 L100.4,165.6 L100.6,166.2 L100.8,166.9 L101.1,167.7 L101.3,168.5 L101.5,169.4 L101.8,170.3 L102.0,171.3 L102.2,172.2 L102.4,172.9 L102.6,173.7 L102.8,174.7 L103.1,176.1 L103.5,178.0 L104.0,180.5 L104.6,183.5 L105.3,186.8 L106.0,190.4 L106.8,194.2 L107.5,198.0 L108.3,202.0 L109.1,206.2 L109.9,210.6 L110.7,215.1 L111.5,219.6 L112.2,224.0 L112.8,228.4 L113.3,233.0 L113.8,237.5 L114.3,241.9 L114.7,246.1 L115.2,250.0 L115.7,253.6 L116.1,256.9 L116.5,260.1 L116.9,263.0 L117.3,265.6 L117.7,268.0 L118.0,270.1 L118.4,271.9 L118.7,273.4 L119.0,274.6 L119.2,275.7 L119.4,276.5 Z" fill="rgb(116,95,195)" clip-path="url(#cr1)"/>
<path d="M57.3,276.5 L57.5,275.4 L57.6,273.9 L57.9,272.0 L58.2,270.0 L58.5,267.8 L58.8,265.5 L59.2,263.1 L59.6,260.5 L60.0,257.8 L60.4,254.9 L60.9,252.0 L61.4,249.0 L61.9,245.9 L62.4,242.8 L63.0,239.6 L63.6,236.3 L64.1,232.8 L64.7,229.3 L65.2,225.7 L65.8,221.9 L66.3,218.0 L66.9,214.1 L67.4,210.1 L68.0,206.0 L68.6,201.6 L69.3,196.9 L70.0,192.1 L70.7,187.5 L71.3,183.4 L71.8,180.0 L72.2,177.5 L72.5,175.8 L72.8,174.5 L73.0,173.5 L73.2,172.5 L73.4,171.3 L73.6,170.0 L73.8,168.6 L73.9,167.3 L74.1,166.1 L74.2,165.0 L74.4,164.0 L74.6,163.2 L74.7,162.5 L74.9,161.9 L75.1,161.4 L75.2,160.9 L75.4,160.4 L75.6,160.0 L75.8,159.7 L76.0,159.4 L76.2,159.1 L76.4,158.7 L76.6,158.2 L76.8,157.5 L77.1,156.6 L77.3,155.7 L77.6,154.7 L77.9,153.9 L78.1,153.1 L78.3,152.5 L78.5,151.9 L78.8,151.4 L79.0,151.0 L79.2,150.6 L79.5,150.2 L79.8,149.9 L80.2,149.7 L80.6,149.5 L81.0,149.4 L81.4,149.1 L81.7,148.8 L82.0,148.3 L82.2,147.7 L82.5,147.0 L82.7,146.4 L82.9,145.8 L83.1,145.4 L83.3,145.1 L83.5,144.9 L83.7,144.8 L83.9,144.7 L84.1,144.8 L84.3,144.9 L84.5,145.1 L84.6,145.5 L84.8,145.9 L84.9,146.4 L85.1,146.9 L85.3,147.3 L85.5,147.7 L85.8,148.1 L86.0,148.5 L86.3,148.8 L86.5,149.2 L86.8,149.5 L87.0,149.8 L87.3,150.0 L87.5,150.1 L87.7,150.3 L88.0,150.5 L88.2,150.7 L88.4,151.0 L88.7,151.3 L89.0,151.6 L89.2,151.9 L89.5,152.2 L89.7,152.4 L89.9,152.6 L90.1,152.8 L90.3,152.9 L90.4,153.0 L90.6,153.1 L90.8,153.1 L91.0,153.0 L91.2,152.8 L91.4,152.5 L91.5,152.2 L91.7,152.1 L91.9,152.1 L92.1,152.3 L92.2,152.7 L92.4,153.1 L92.5,153.6 L92.7,154.1 L92.9,154.6 L93.2,155.1 L93.5,155.5 L93.8,156.0 L94.1,156.5 L94.5,157.0 L94.8,157.5 L95.1,158.0 L95.5,158.5 L95.8,158.9 L96.2,159.4 L96.5,159.9 L96.9,160.4 L97.3,160.9 L97.7,161.4 L98.0,161.9 L98.4,162.3 L98.8,162.8 L99.1,163.3 L99.4,163.8 L99.7,164.2 L99.9,164.6 L100.1,165.1 L100.4,165.6 L100.6,166.2 L100.8,166.9 L101.1,167.7 L101.3,168.5 L101.5,169.4 L101.8,170.3 L102.0,171.3 L102.2,172.2 L102.4,172.9 L102.6,173.7 L102.8,174.7 L103.1,176.1 L103.5,178.0 L104.0,180.5 L104.6,183.5 L105.3,186.8 L106.0,190.4 L106.8,194.2 L107.5,198.0 L108.3,202.0 L109.1,206.2 L109.9,210.6 L110.7,215.1 L111.5,219.6 L112.2,224.0 L112.8,228.4 L113.3,233.0 L113.8,237.5 L114.3,241.9 L114.7,246.1 L115.2,250.0 L115.7,253.6 L116.1,256.9 L116.5,260.1 L116.9,263.0 L117.3,265.6 L117.7,268.0 L118.0,270.1 L118.4,271.9 L118.7,273.4 L119.0,274.6 L119.2,275.7 L119.4,276.5 Z" fill="rgb(116,103,153)" clip-path="url(#co1)"/>
<g clip-path="url(#cr1)"><path d="M57.3,276.5 L57.5,275.4 L57.6,273.9 L57.9,272.0 L58.2,270.0 L58.5,267.8 L58.8,265.5 L59.2,263.1 L59.6,260.5 L60.0,257.8 L60.4,254.9 L60.9,252.0 L61.4,249.0 L61.9,245.9 L62.4,242.8 L63.0,239.6 L63.6,236.3 L64.1,232.8 L64.7,229.3 L65.2,225.7 L65.8,221.9 L66.3,218.0 L66.9,214.1 L67.4,210.1 L68.0,206.0 L68.6,201.6 L69.3,196.9 L70.0,192.1 L70.7,187.5 L71.3,183.4 L71.8,180.0 L72.2,177.5 L72.5,175.8 L72.8,174.5 L73.0,173.5 L73.2,172.5 L73.4,171.3 L73.6,170.0 L73.8,168.6 L73.9,167.3 L74.1,166.1 L74.2,165.0 L74.4,164.0 L74.6,163.2 L74.7,162.5 L74.9,161.9 L75.1,161.4 L75.2,160.9 L75.4,160.4 L75.6,160.0 L75.8,159.7 L76.0,159.4 L76.2,159.1 L76.4,158.7 L76.6,158.2 L76.8,157.5 L77.1,156.6 L77.3,155.7 L77.6,154.7 L77.9,153.9 L78.1,153.1 L78.3,152.5 L78.5,151.9 L78.8,151.4 L79.0,151.0 L79.2,150.6 L79.5,150.2 L79.8,149.9 L80.2,149.7 L80.6,149.5 L81.0,149.4 L81.4,149.1 L81.7,148.8 L82.0,148.3 L82.2,147.7 L82.5,147.0 L82.7,146.4 L82.9,145.8 L83.1,145.4 L83.3,145.1 L83.5,144.9 L83.7,144.8 L83.9,144.7 L84.1,144.8 L84.3,144.9 L84.5,145.1 L84.6,145.5 L84.8,145.9 L84.9,146.4 L85.1,146.9 L85.3,147.3 L85.5,147.7 L85.8,148.1 L86.0,148.5 L86.3,148.8 L86.5,149.2 L86.8,149.5 L87.0,149.8 L87.3,150.0 L87.5,150.1 L87.7,150.3 L88.0,150.5 L88.2,150.7 L88.4,151.0 L88.7,151.3 L89.0,151.6 L89.2,151.9 L89.5,152.2 L89.7,152.4 L89.9,152.6 L90.1,152.8 L90.3,152.9 L90.4,153.0 L90.6,153.1 L90.8,153.1 L91.0,153.0 L91.2,152.8 L91.4,152.5 L91.5,152.2 L91.7,152.1 L91.9,152.1 L92.1,152.3 L92.2,152.7 L92.4,153.1 L92.5,153.6 L92.7,154.1 L92.9,154.6 L93.2,155.1 L93.5,155.5 L93.8,156.0 L94.1,156.5 L94.5,157.0 L94.8,157.5 L95.1,158.0 L95.5,158.5 L95.8,158.9 L96.2,159.4 L96.5,159.9 L96.9,160.4 L97.3,160.9 L97.7,161.4 L98.0,161.9 L98.4,162.3 L98.8,162.8 L99.1,163.3 L99.4,163.8 L99.7,164.2 L99.9,164.6 L100.1,165.1 L100.4,165.6 L100.6,166.2 L100.8,166.9 L101.1,167.7 L101.3,168.5 L101.5,169.4 L101.8,170.3 L102.0,171.3 L102.2,172.2 L102.4,172.9 L102.6,173.7 L102.8,174.7 L103.1,176.1 L103.5,178.0 L104.0,180.5 L104.6,183.5 L105.3,186.8 L106.0,190.4 L106.8,194.2 L107.5,198.0 L108.3,202.0 L109.1,206.2 L109.9,210.6 L110.7,215.1 L111.5,219.6 L112.2,224.0 L112.8,228.4 L113.3,233.0 L113.8,237.5 L114.3,241.9 L114.7,246.1 L115.2,250.0 L115.7,253.6 L116.1,256.9 L116.5,260.1 L116.9,263.0 L117.3,265.6 L117.7,268.0 L118.0,270.1 L118.4,271.9 L118.7,273.4 L119.0,274.6 L119.2,275.7 L119.4,276.5 Z" fill="rgb(124,97,147)" clip-path="url(#co1)"/></g>
<path d="M167.8,276.5 L168.0,276.4 L168.4,276.2 L168.8,275.9 L169.2,275.7 L169.6,275.4 L170.0,275.2 L170.4,275.0 L170.7,274.8 L171.1,274.6 L171.4,274.4 L171.8,274.2 L172.2,273.9 L172.6,273.6 L173.1,273.3 L173.6,273.0 L174.0,272.6 L174.5,272.3 L174.9,271.9 L175.3,271.5 L175.7,271.0 L176.0,270.6 L176.4,270.1 L176.7,269.6 L177.0,269.2 L177.3,268.9 L177.5,268.6 L177.6,268.3 L177.8,268.0 L178.0,267.6 L178.3,267.1 L178.6,266.5 L179.0,265.7 L179.3,264.9 L179.7,264.0 L180.1,263.0 L180.5,262.0 L180.9,260.9 L181.3,259.8 L181.7,258.5 L182.1,257.3 L182.5,255.9 L183.0,254.5 L183.5,253.0 L184.0,251.5 L184.6,249.9 L185.2,248.3 L185.7,246.5 L186.2,244.7 L186.7,242.8 L187.1,240.8 L187.5,238.7 L187.9,236.5 L188.3,234.2 L188.8,231.9 L189.3,229.4 L189.9,226.8 L190.5,224.2 L191.2,221.5 L191.9,218.9 L192.6,216.4 L193.4,214.0 L194.2,211.7 L195.1,209.5 L196.0,207.3 L196.9,205.3 L197.8,203.5 L198.6,201.9 L199.5,200.6 L200.3,199.3 L201.1,198.2 L202.0,197.0 L202.9,195.8 L203.9,194.5 L205.0,193.1 L206.1,191.6 L207.2,190.3 L208.3,189.1 L209.4,188.0 L210.5,187.1 L211.5,186.4 L212.6,185.8 L213.7,185.3 L214.7,184.8 L215.8,184.4 L216.8,184.0 L217.8,183.7 L218.8,183.5 L219.8,183.3 L220.9,183.2 L222.0,183.2 L223.2,183.2 L224.5,183.4 L225.9,183.6 L227.3,183.8 L228.6,184.0 L230.0,184.2 L231.3,184.4 L232.6,184.5 L233.9,184.7 L235.2,184.8 L236.6,185.1 L238.0,185.3 L239.5,185.6 L241.2,185.9 L242.9,186.3 L244.6,186.6 L246.2,187.0 L247.8,187.5 L249.2,188.0 L250.6,188.5 L251.9,189.0 L253.2,189.6 L254.6,190.3 L256.0,191.0 L257.5,191.8 L259.1,192.7 L260.8,193.7 L262.4,194.7 L264.1,195.7 L265.6,196.7 L267.1,197.7 L268.5,198.7 L269.8,199.6 L271.2,200.7 L272.6,201.8 L274.0,203.0 L275.5,204.3 L277.1,205.8 L278.8,207.4 L280.4,208.9 L281.9,210.4 L283.3,211.9 L284.6,213.3 L285.7,214.6 L286.8,215.9 L287.9,217.2 L288.9,218.5 L290.0,219.8 L291.2,221.2 L292.4,222.6 L293.6,224.0 L294.7,225.3 L295.8,226.5 L296.7,227.6 L297.4,228.5 L298.0,229.1 L298.5,229.7 L298.9,230.2 L299.4,230.8 L300.0,231.5 L300.8,232.3 L301.6,233.2 L302.5,234.2 L303.4,235.1 L304.3,236.0 L305.0,236.8 L305.5,237.5 L305.9,238.1 L306.2,238.6 L306.5,239.2 L307.0,239.8 L307.7,240.5 L308.7,241.4 L309.8,242.4 L311.1,243.5 L312.5,244.6 L314.0,245.6 L315.5,246.5 L317.1,247.3 L318.7,247.9 L320.5,248.6 L322.3,249.1 L324.1,249.7 L325.8,250.3 L327.5,250.9 L329.2,251.5 L330.9,252.1 L332.7,252.7 L334.4,253.2 L336.1,253.7 L337.9,254.1 L339.7,254.4 L341.6,254.7 L343.4,254.9 L345.0,255.2 L346.5,255.5 L347.7,255.8 L348.7,256.1 L349.6,256.4 L350.4,256.8 L351.2,257.1 L352.0,257.5 L352.9,257.9 L353.7,258.4 L354.5,258.9 L355.3,259.4 L356.1,259.9 L356.8,260.4 L357.4,260.8 L357.9,261.2 L358.4,261.6 L358.9,262.0 L359.4,262.3 L360.0,262.7 L360.7,263.1 L361.4,263.4 L362.2,263.7 L362.9,264.0 L363.7,264.4 L364.3,264.8 L364.9,265.2 L365.4,265.7 L365.8,266.2 L366.3,266.7 L366.7,267.2 L367.1,267.7 L367.5,268.3 L367.9,268.8 L368.2,269.5 L368.5,270.1 L368.9,270.7 L369.2,271.2 L369.5,271.7 L369.9,272.2 L370.2,272.7 L370.5,273.1 L370.9,273.6 L371.3,274.0 L371.8,274.5 L372.3,274.9 L372.9,275.4 L373.4,275.9 L373.9,276.2 L374.2,276.5 Z" fill="rgb(236,148,143)"/>
<path d="M197.3,276.5 L197.5,275.7 L197.7,274.6 L198.0,273.4 L198.3,272.0 L198.7,270.5 L199.0,269.0 L199.3,267.8 L199.6,266.8 L199.9,265.8 L200.2,264.4 L200.6,262.2 L201.0,259.0 L201.5,254.4 L202.1,248.6 L202.7,242.1 L203.3,235.4 L203.9,228.8 L204.4,223.0 L204.9,217.8 L205.4,212.8 L205.8,208.0 L206.2,203.4 L206.6,199.1 L207.0,195.0 L207.4,191.4 L207.7,188.5 L208.0,185.8 L208.3,182.9 L208.6,179.4 L208.9,175.0 L209.2,169.4 L209.6,162.7 L209.9,155.5 L210.2,148.2 L210.5,141.2 L210.8,135.0 L211.1,129.5 L211.3,124.3 L211.6,119.4 L211.8,114.9 L212.0,110.7 L212.2,107.0 L212.3,103.8 L212.4,101.2 L212.5,98.9 L212.6,96.8 L212.7,94.8 L212.8,92.5 L213.0,90.1 L213.1,87.7 L213.3,85.2 L213.5,82.8 L213.7,80.4 L213.9,78.0 L214.1,75.6 L214.3,73.2 L214.4,70.8 L214.6,68.3 L214.8,65.9 L215.0,63.5 L215.2,61.0 L215.4,58.6 L215.7,56.1 L215.9,53.6 L216.2,51.2 L216.5,49.0 L216.8,46.8 L217.2,44.7 L217.6,42.7 L218.0,40.7 L218.4,39.0 L218.8,37.4 L219.2,36.0 L219.5,34.9 L219.8,33.9 L220.2,33.0 L220.6,32.2 L221.0,31.5 L221.5,30.9 L222.1,30.4 L222.7,29.9 L223.4,29.6 L224.0,29.5 L224.6,29.4 L225.2,29.5 L225.7,29.6 L226.3,29.9 L226.8,30.4 L227.4,30.9 L228.0,31.5 L228.6,32.2 L229.2,33.0 L229.9,33.9 L230.6,34.9 L231.2,36.0 L231.9,37.4 L232.6,39.0 L233.4,40.7 L234.1,42.7 L234.9,44.7 L235.6,46.8 L236.2,49.0 L236.8,51.2 L237.3,53.6 L237.7,56.1 L238.2,58.6 L238.6,61.0 L239.0,63.5 L239.4,65.9 L239.8,68.3 L240.2,70.8 L240.6,73.2 L241.0,75.6 L241.4,78.0 L241.8,80.4 L242.3,82.8 L242.7,85.2 L243.2,87.7 L243.6,90.1 L244.0,92.5 L244.3,94.9 L244.7,97.2 L244.9,99.5 L245.2,101.9 L245.5,104.4 L245.8,107.0 L246.1,109.7 L246.4,112.5 L246.8,115.3 L247.1,118.4 L247.5,121.6 L247.8,125.0 L248.2,128.8 L248.5,132.8 L248.9,137.1 L249.3,141.4 L249.6,145.8 L250.0,150.0 L250.4,154.3 L250.8,158.7 L251.2,163.1 L251.6,167.4 L252.0,171.4 L252.3,175.0 L252.6,178.1 L252.9,180.9 L253.2,183.4 L253.5,185.7 L253.7,187.9 L254.0,190.0 L254.2,191.9 L254.5,193.5 L254.7,194.9 L254.9,196.3 L255.1,198.0 L255.3,200.0 L255.5,202.5 L255.7,205.3 L255.9,208.3 L256.1,211.3 L256.3,214.2 L256.6,216.8 L256.9,219.0 L257.3,221.0 L257.7,222.8 L258.1,224.6 L258.6,226.5 L259.2,228.4 L259.9,230.5 L260.7,232.8 L261.6,235.1 L262.5,237.3 L263.4,239.4 L264.4,241.3 L265.4,242.9 L266.5,244.4 L267.6,245.8 L268.7,247.0 L269.8,248.1 L270.8,249.1 L271.7,249.9 L272.6,250.6 L273.5,251.1 L274.3,251.6 L275.1,252.0 L276.0,252.5 L276.9,252.9 L277.7,253.2 L278.6,253.5 L279.5,253.8 L280.3,254.2 L281.2,254.8 L282.1,255.6 L282.9,256.5 L283.7,257.5 L284.6,258.5 L285.4,259.6 L286.3,260.7 L287.2,261.8 L288.0,262.9 L288.9,264.1 L289.8,265.3 L290.7,266.5 L291.5,267.7 L292.4,269.0 L293.2,270.3 L294.1,271.7 L294.9,273.0 L295.6,274.1 L296.2,275.0 L296.6,275.6 L296.9,276.0 L297.1,276.2 L297.3,276.3 L297.4,276.4 L297.5,276.5 Z" fill="rgb(236,163,58)"/>
<path d="M197.3,276.5 L197.5,275.7 L197.7,274.6 L198.0,273.4 L198.3,272.0 L198.7,270.5 L199.0,269.0 L199.3,267.8 L199.6,266.8 L199.9,265.8 L200.2,264.4 L200.6,262.2 L201.0,259.0 L201.5,254.4 L202.1,248.6 L202.7,242.1 L203.3,235.4 L203.9,228.8 L204.4,223.0 L204.9,217.8 L205.4,212.8 L205.8,208.0 L206.2,203.4 L206.6,199.1 L207.0,195.0 L207.4,191.4 L207.7,188.5 L208.0,185.8 L208.3,182.9 L208.6,179.4 L208.9,175.0 L209.2,169.4 L209.6,162.7 L209.9,155.5 L210.2,148.2 L210.5,141.2 L210.8,135.0 L211.1,129.5 L211.3,124.3 L211.6,119.4 L211.8,114.9 L212.0,110.7 L212.2,107.0 L212.3,103.8 L212.4,101.2 L212.5,98.9 L212.6,96.8 L212.7,94.8 L212.8,92.5 L213.0,90.1 L213.1,87.7 L213.3,85.2 L213.5,82.8 L213.7,80.4 L213.9,78.0 L214.1,75.6 L214.3,73.2 L214.4,70.8 L214.6,68.3 L214.8,65.9 L215.0,63.5 L215.2,61.0 L215.4,58.6 L215.7,56.1 L215.9,53.6 L216.2,51.2 L216.5,49.0 L216.8,46.8 L217.2,44.7 L217.6,42.7 L218.0,40.7 L218.4,39.0 L218.8,37.4 L219.2,36.0 L219.5,34.9 L219.8,33.9 L220.2,33.0 L220.6,32.2 L221.0,31.5 L221.5,30.9 L222.1,30.4 L222.7,29.9 L223.4,29.6 L224.0,29.5 L224.6,29.4 L225.2,29.5 L225.7,29.6 L226.3,29.9 L226.8,30.4 L227.4,30.9 L228.0,31.5 L228.6,32.2 L229.2,33.0 L229.9,33.9 L230.6,34.9 L231.2,36.0 L231.9,37.4 L232.6,39.0 L233.4,40.7 L234.1,42.7 L234.9,44.7 L235.6,46.8 L236.2,49.0 L236.8,51.2 L237.3,53.6 L237.7,56.1 L238.2,58.6 L238.6,61.0 L239.0,63.5 L239.4,65.9 L239.8,68.3 L240.2,70.8 L240.6,73.2 L241.0,75.6 L241.4,78.0 L241.8,80.4 L242.3,82.8 L242.7,85.2 L243.2,87.7 L243.6,90.1 L244.0,92.5 L244.3,94.9 L244.7,97.2 L244.9,99.5 L245.2,101.9 L245.5,104.4 L245.8,107.0 L246.1,109.7 L246.4,112.5 L246.8,115.3 L247.1,118.4 L247.5,121.6 L247.8,125.0 L248.2,128.8 L248.5,132.8 L248.9,137.1 L249.3,141.4 L249.6,145.8 L250.0,150.0 L250.4,154.3 L250.8,158.7 L251.2,163.1 L251.6,167.4 L252.0,171.4 L252.3,175.0 L252.6,178.1 L252.9,180.9 L253.2,183.4 L253.5,185.7 L253.7,187.9 L254.0,190.0 L254.2,191.9 L254.5,193.5 L254.7,194.9 L254.9,196.3 L255.1,198.0 L255.3,200.0 L255.5,202.5 L255.7,205.3 L255.9,208.3 L256.1,211.3 L256.3,214.2 L256.6,216.8 L256.9,219.0 L257.3,221.0 L257.7,222.8 L258.1,224.6 L258.6,226.5 L259.2,228.4 L259.9,230.5 L260.7,232.8 L261.6,235.1 L262.5,237.3 L263.4,239.4 L264.4,241.3 L265.4,242.9 L266.5,244.4 L267.6,245.8 L268.7,247.0 L269.8,248.1 L270.8,249.1 L271.7,249.9 L272.6,250.6 L273.5,251.1 L274.3,251.6 L275.1,252.0 L276.0,252.5 L276.9,252.9 L277.7,253.2 L278.6,253.5 L279.5,253.8 L280.3,254.2 L281.2,254.8 L282.1,255.6 L282.9,256.5 L283.7,257.5 L284.6,258.5 L285.4,259.6 L286.3,260.7 L287.2,261.8 L288.0,262.9 L288.9,264.1 L289.8,265.3 L290.7,266.5 L291.5,267.7 L292.4,269.0 L293.2,270.3 L294.1,271.7 L294.9,273.0 L295.6,274.1 L296.2,275.0 L296.6,275.6 L296.9,276.0 L297.1,276.2 L297.3,276.3 L297.4,276.4 L297.5,276.5 Z" fill="rgb(246,144,36)" clip-path="url(#cr2)"/>
<path d="M175.4,276.5 L175.6,276.0 L175.8,275.3 L176.0,274.6 L176.3,273.7 L176.5,272.8 L176.8,272.0 L177.0,271.2 L177.3,270.4 L177.5,269.5 L177.8,268.7 L178.0,267.9 L178.3,267.1 L178.6,266.4 L178.9,265.8 L179.3,265.2 L179.6,264.5 L180.0,263.8 L180.3,263.0 L180.6,262.1 L181.0,261.1 L181.3,260.1 L181.7,259.0 L182.0,257.7 L182.4,256.3 L182.8,254.7 L183.2,253.0 L183.6,251.2 L184.0,249.2 L184.5,247.1 L184.9,244.7 L185.3,242.1 L185.8,239.2 L186.2,236.1 L186.7,232.9 L187.1,229.8 L187.5,226.7 L187.9,223.7 L188.2,220.7 L188.6,217.7 L188.9,214.7 L189.2,211.7 L189.5,208.7 L189.8,205.7 L190.1,202.8 L190.4,199.8 L190.7,196.8 L191.0,193.8 L191.3,190.6 L191.6,187.3 L191.9,184.0 L192.1,180.6 L192.4,177.2 L192.8,173.6 L193.2,170.0 L193.7,166.2 L194.3,162.3 L194.9,158.3 L195.5,154.3 L196.2,150.4 L196.8,146.6 L197.4,142.9 L198.0,139.3 L198.7,135.8 L199.3,132.4 L200.0,129.1 L200.6,126.0 L201.2,123.0 L201.9,120.1 L202.5,117.3 L203.2,114.7 L203.8,112.4 L204.5,110.5 L205.2,109.0 L205.9,107.9 L206.7,107.1 L207.4,106.5 L208.2,106.0 L209.0,105.5 L209.8,105.0 L210.6,104.7 L211.5,104.4 L212.3,104.3 L213.2,104.1 L214.0,104.0 L214.8,103.9 L215.5,103.8 L216.3,103.8 L217.0,103.8 L217.8,103.9 L218.7,104.0 L219.7,104.1 L220.7,104.2 L221.8,104.3 L223.0,104.5 L224.1,104.9 L225.2,105.5 L226.3,106.3 L227.4,107.3 L228.5,108.4 L229.6,109.7 L230.6,111.2 L231.6,113.0 L232.6,115.1 L233.5,117.5 L234.4,120.1 L235.2,122.8 L236.0,125.7 L236.8,128.5 L237.5,131.4 L238.2,134.3 L238.8,137.4 L239.4,140.4 L240.0,143.5 L240.6,146.6 L241.2,149.7 L241.7,152.9 L242.2,156.2 L242.7,159.3 L243.1,162.3 L243.6,165.0 L244.0,167.4 L244.4,169.5 L244.8,171.5 L245.2,173.3 L245.6,175.1 L246.0,177.0 L246.4,178.9 L246.8,180.7 L247.3,182.5 L247.7,184.3 L248.1,186.1 L248.5,188.0 L248.9,190.0 L249.2,192.0 L249.6,194.1 L249.9,196.1 L250.3,198.1 L250.7,200.0 L251.1,201.8 L251.6,203.6 L252.0,205.3 L252.5,207.0 L253.0,208.5 L253.5,210.0 L254.0,211.3 L254.4,212.6 L254.8,213.7 L255.3,214.8 L255.9,215.8 L256.6,216.8 L257.5,217.7 L258.5,218.5 L259.6,219.2 L260.8,219.9 L262.0,220.6 L263.1,221.5 L264.2,222.5 L265.3,223.5 L266.4,224.5 L267.5,225.6 L268.5,226.8 L269.5,228.0 L270.5,229.2 L271.4,230.5 L272.3,231.9 L273.1,233.2 L273.9,234.7 L274.7,236.2 L275.4,237.8 L276.1,239.6 L276.8,241.3 L277.4,243.1 L278.0,244.9 L278.6,246.5 L279.1,248.0 L279.6,249.4 L280.0,250.7 L280.4,252.0 L280.8,253.4 L281.2,254.8 L281.6,256.3 L282.0,257.9 L282.4,259.5 L282.8,261.1 L283.3,262.8 L283.8,264.6 L284.4,266.6 L285.1,268.9 L285.9,271.2 L286.6,273.3 L287.2,275.2 L287.6,276.5 Z" fill="rgb(108,133,232)"/>
<path d="M175.4,276.5 L175.6,276.0 L175.8,275.3 L176.0,274.6 L176.3,273.7 L176.5,272.8 L176.8,272.0 L177.0,271.2 L177.3,270.4 L177.5,269.5 L177.8,268.7 L178.0,267.9 L178.3,267.1 L178.6,266.4 L178.9,265.8 L179.3,265.2 L179.6,264.5 L180.0,263.8 L180.3,263.0 L180.6,262.1 L181.0,261.1 L181.3,260.1 L181.7,259.0 L182.0,257.7 L182.4,256.3 L182.8,254.7 L183.2,253.0 L183.6,251.2 L184.0,249.2 L184.5,247.1 L184.9,244.7 L185.3,242.1 L185.8,239.2 L186.2,236.1 L186.7,232.9 L187.1,229.8 L187.5,226.7 L187.9,223.7 L188.2,220.7 L188.6,217.7 L188.9,214.7 L189.2,211.7 L189.5,208.7 L189.8,205.7 L190.1,202.8 L190.4,199.8 L190.7,196.8 L191.0,193.8 L191.3,190.6 L191.6,187.3 L191.9,184.0 L192.1,180.6 L192.4,177.2 L192.8,173.6 L193.2,170.0 L193.7,166.2 L194.3,162.3 L194.9,158.3 L195.5,154.3 L196.2,150.4 L196.8,146.6 L197.4,142.9 L198.0,139.3 L198.7,135.8 L199.3,132.4 L200.0,129.1 L200.6,126.0 L201.2,123.0 L201.9,120.1 L202.5,117.3 L203.2,114.7 L203.8,112.4 L204.5,110.5 L205.2,109.0 L205.9,107.9 L206.7,107.1 L207.4,106.5 L208.2,106.0 L209.0,105.5 L209.8,105.0 L210.6,104.7 L211.5,104.4 L212.3,104.3 L213.2,104.1 L214.0,104.0 L214.8,103.9 L215.5,103.8 L216.3,103.8 L217.0,103.8 L217.8,103.9 L218.7,104.0 L219.7,104.1 L220.7,104.2 L221.8,104.3 L223.0,104.5 L224.1,104.9 L225.2,105.5 L226.3,106.3 L227.4,107.3 L228.5,108.4 L229.6,109.7 L230.6,111.2 L231.6,113.0 L232.6,115.1 L233.5,117.5 L234.4,120.1 L235.2,122.8 L236.0,125.7 L236.8,128.5 L237.5,131.4 L238.2,134.3 L238.8,137.4 L239.4,140.4 L240.0,143.5 L240.6,146.6 L241.2,149.7 L241.7,152.9 L242.2,156.2 L242.7,159.3 L243.1,162.3 L243.6,165.0 L244.0,167.4 L244.4,169.5 L244.8,171.5 L245.2,173.3 L245.6,175.1 L246.0,177.0 L246.4,178.9 L246.8,180.7 L247.3,182.5 L247.7,184.3 L248.1,186.1 L248.5,188.0 L248.9,190.0 L249.2,192.0 L249.6,194.1 L249.9,196.1 L250.3,198.1 L250.7,200.0 L251.1,201.8 L251.6,203.6 L252.0,205.3 L252.5,207.0 L253.0,208.5 L253.5,210.0 L254.0,211.3 L254.4,212.6 L254.8,213.7 L255.3,214.8 L255.9,215.8 L256.6,216.8 L257.5,217.7 L258.5,218.5 L259.6,219.2 L260.8,219.9 L262.0,220.6 L263.1,221.5 L264.2,222.5 L265.3,223.5 L266.4,224.5 L267.5,225.6 L268.5,226.8 L269.5,228.0 L270.5,229.2 L271.4,230.5 L272.3,231.9 L273.1,233.2 L273.9,234.7 L274.7,236.2 L275.4,237.8 L276.1,239.6 L276.8,241.3 L277.4,243.1 L278.0,244.9 L278.6,246.5 L279.1,248.0 L279.6,249.4 L280.0,250.7 L280.4,252.0 L280.8,253.4 L281.2,254.8 L281.6,256.3 L282.0,257.9 L282.4,259.5 L282.8,261.1 L283.3,262.8 L283.8,264.6 L284.4,266.6 L285.1,268.9 L285.9,271.2 L286.6,273.3 L287.2,275.2 L287.6,276.5 Z" fill="rgb(116,95,195)" clip-path="url(#cr2)"/>
<path d="M175.4,276.5 L175.6,276.0 L175.8,275.3 L176.0,274.6 L176.3,273.7 L176.5,272.8 L176.8,272.0 L177.0,271.2 L177.3,270.4 L177.5,269.5 L177.8,268.7 L178.0,267.9 L178.3,267.1 L178.6,266.4 L178.9,265.8 L179.3,265.2 L179.6,264.5 L180.0,263.8 L180.3,263.0 L180.6,262.1 L181.0,261.1 L181.3,260.1 L181.7,259.0 L182.0,257.7 L182.4,256.3 L182.8,254.7 L183.2,253.0 L183.6,251.2 L184.0,249.2 L184.5,247.1 L184.9,244.7 L185.3,242.1 L185.8,239.2 L186.2,236.1 L186.7,232.9 L187.1,229.8 L187.5,226.7 L187.9,223.7 L188.2,220.7 L188.6,217.7 L188.9,214.7 L189.2,211.7 L189.5,208.7 L189.8,205.7 L190.1,202.8 L190.4,199.8 L190.7,196.8 L191.0,193.8 L191.3,190.6 L191.6,187.3 L191.9,184.0 L192.1,180.6 L192.4,177.2 L192.8,173.6 L193.2,170.0 L193.7,166.2 L194.3,162.3 L194.9,158.3 L195.5,154.3 L196.2,150.4 L196.8,146.6 L197.4,142.9 L198.0,139.3 L198.7,135.8 L199.3,132.4 L200.0,129.1 L200.6,126.0 L201.2,123.0 L201.9,120.1 L202.5,117.3 L203.2,114.7 L203.8,112.4 L204.5,110.5 L205.2,109.0 L205.9,107.9 L206.7,107.1 L207.4,106.5 L208.2,106.0 L209.0,105.5 L209.8,105.0 L210.6,104.7 L211.5,104.4 L212.3,104.3 L213.2,104.1 L214.0,104.0 L214.8,103.9 L215.5,103.8 L216.3,103.8 L217.0,103.8 L217.8,103.9 L218.7,104.0 L219.7,104.1 L220.7,104.2 L221.8,104.3 L223.0,104.5 L224.1,104.9 L225.2,105.5 L226.3,106.3 L227.4,107.3 L228.5,108.4 L229.6,109.7 L230.6,111.2 L231.6,113.0 L232.6,115.1 L233.5,117.5 L234.4,120.1 L235.2,122.8 L236.0,125.7 L236.8,128.5 L237.5,131.4 L238.2,134.3 L238.8,137.4 L239.4,140.4 L240.0,143.5 L240.6,146.6 L241.2,149.7 L241.7,152.9 L242.2,156.2 L242.7,159.3 L243.1,162.3 L243.6,165.0 L244.0,167.4 L244.4,169.5 L244.8,171.5 L245.2,173.3 L245.6,175.1 L246.0,177.0 L246.4,178.9 L246.8,180.7 L247.3,182.5 L247.7,184.3 L248.1,186.1 L248.5,188.0 L248.9,190.0 L249.2,192.0 L249.6,194.1 L249.9,196.1 L250.3,198.1 L250.7,200.0 L251.1,201.8 L251.6,203.6 L252.0,205.3 L252.5,207.0 L253.0,208.5 L253.5,210.0 L254.0,211.3 L254.4,212.6 L254.8,213.7 L255.3,214.8 L255.9,215.8 L256.6,216.8 L257.5,217.7 L258.5,218.5 L259.6,219.2 L260.8,219.9 L262.0,220.6 L263.1,221.5 L264.2,222.5 L265.3,223.5 L266.4,224.5 L267.5,225.6 L268.5,226.8 L269.5,228.0 L270.5,229.2 L271.4,230.5 L272.3,231.9 L273.1,233.2 L273.9,234.7 L274.7,236.2 L275.4,237.8 L276.1,239.6 L276.8,241.3 L277.4,243.1 L278.0,244.9 L278.6,246.5 L279.1,248.0 L279.6,249.4 L280.0,250.7 L280.4,252.0 L280.8,253.4 L281.2,254.8 L281.6,256.3 L282.0,257.9 L282.4,259.5 L282.8,261.1 L283.3,262.8 L283.8,264.6 L284.4,266.6 L285.1,268.9 L285.9,271.2 L286.6,273.3 L287.2,275.2 L287.6,276.5 Z" fill="rgb(116,103,153)" clip-path="url(#co2)"/>
<g clip-path="url(#cr2)"><path d="M175.4,276.5 L175.6,276.0 L175.8,275.3 L176.0,274.6 L176.3,273.7 L176.5,272.8 L176.8,272.0 L177.0,271.2 L177.3,270.4 L177.5,269.5 L177.8,268.7 L178.0,267.9 L178.3,267.1 L178.6,266.4 L178.9,265.8 L179.3,265.2 L179.6,264.5 L180.0,263.8 L180.3,263.0 L180.6,262.1 L181.0,261.1 L181.3,260.1 L181.7,259.0 L182.0,257.7 L182.4,256.3 L182.8,254.7 L183.2,253.0 L183.6,251.2 L184.0,249.2 L184.5,247.1 L184.9,244.7 L185.3,242.1 L185.8,239.2 L186.2,236.1 L186.7,232.9 L187.1,229.8 L187.5,226.7 L187.9,223.7 L188.2,220.7 L188.6,217.7 L188.9,214.7 L189.2,211.7 L189.5,208.7 L189.8,205.7 L190.1,202.8 L190.4,199.8 L190.7,196.8 L191.0,193.8 L191.3,190.6 L191.6,187.3 L191.9,184.0 L192.1,180.6 L192.4,177.2 L192.8,173.6 L193.2,170.0 L193.7,166.2 L194.3,162.3 L194.9,158.3 L195.5,154.3 L196.2,150.4 L196.8,146.6 L197.4,142.9 L198.0,139.3 L198.7,135.8 L199.3,132.4 L200.0,129.1 L200.6,126.0 L201.2,123.0 L201.9,120.1 L202.5,117.3 L203.2,114.7 L203.8,112.4 L204.5,110.5 L205.2,109.0 L205.9,107.9 L206.7,107.1 L207.4,106.5 L208.2,106.0 L209.0,105.5 L209.8,105.0 L210.6,104.7 L211.5,104.4 L212.3,104.3 L213.2,104.1 L214.0,104.0 L214.8,103.9 L215.5,103.8 L216.3,103.8 L217.0,103.8 L217.8,103.9 L218.7,104.0 L219.7,104.1 L220.7,104.2 L221.8,104.3 L223.0,104.5 L224.1,104.9 L225.2,105.5 L226.3,106.3 L227.4,107.3 L228.5,108.4 L229.6,109.7 L230.6,111.2 L231.6,113.0 L232.6,115.1 L233.5,117.5 L234.4,120.1 L235.2,122.8 L236.0,125.7 L236.8,128.5 L237.5,131.4 L238.2,134.3 L238.8,137.4 L239.4,140.4 L240.0,143.5 L240.6,146.6 L241.2,149.7 L241.7,152.9 L242.2,156.2 L242.7,159.3 L243.1,162.3 L243.6,165.0 L244.0,167.4 L244.4,169.5 L244.8,171.5 L245.2,173.3 L245.6,175.1 L246.0,177.0 L246.4,178.9 L246.8,180.7 L247.3,182.5 L247.7,184.3 L248.1,186.1 L248.5,188.0 L248.9,190.0 L249.2,192.0 L249.6,194.1 L249.9,196.1 L250.3,198.1 L250.7,200.0 L251.1,201.8 L251.6,203.6 L252.0,205.3 L252.5,207.0 L253.0,208.5 L253.5,210.0 L254.0,211.3 L254.4,212.6 L254.8,213.7 L255.3,214.8 L255.9,215.8 L256.6,216.8 L257.5,217.7 L258.5,218.5 L259.6,219.2 L260.8,219.9 L262.0,220.6 L263.1,221.5 L264.2,222.5 L265.3,223.5 L266.4,224.5 L267.5,225.6 L268.5,226.8 L269.5,228.0 L270.5,229.2 L271.4,230.5 L272.3,231.9 L273.1,233.2 L273.9,234.7 L274.7,236.2 L275.4,237.8 L276.1,239.6 L276.8,241.3 L277.4,243.1 L278.0,244.9 L278.6,246.5 L279.1,248.0 L279.6,249.4 L280.0,250.7 L280.4,252.0 L280.8,253.4 L281.2,254.8 L281.6,256.3 L282.0,257.9 L282.4,259.5 L282.8,261.1 L283.3,262.8 L283.8,264.6 L284.4,266.6 L285.1,268.9 L285.9,271.2 L286.6,273.3 L287.2,275.2 L287.6,276.5 Z" fill="rgb(124,97,147)" clip-path="url(#co2)"/></g>
<path d="M412.3,276.5 L412.7,276.0 L413.2,275.3 L413.9,274.6 L414.6,273.5 L415.4,272.2 L416.1,270.6 L416.9,268.6 L417.7,266.2 L418.5,263.6 L419.3,260.7 L420.2,257.7 L421.0,254.5 L421.8,251.1 L422.6,247.5 L423.4,243.7 L424.2,239.7 L425.0,235.8 L425.8,232.0 L426.6,228.2 L427.4,224.3 L428.3,220.4 L429.1,216.6 L429.9,212.9 L430.6,209.4 L431.3,206.2 L432.0,203.1 L432.6,200.2 L433.3,197.4 L433.9,194.6 L434.5,192.0 L435.1,189.5 L435.6,187.3 L436.1,185.2 L436.7,183.0 L437.3,180.6 L438.0,178.0 L438.8,175.0 L439.6,171.9 L440.6,168.5 L441.5,165.1 L442.5,161.5 L443.5,158.0 L444.5,154.3 L445.6,150.4 L446.7,146.5 L447.8,142.6 L448.9,138.9 L450.0,135.5 L451.1,132.3 L452.2,129.3 L453.4,126.4 L454.5,123.8 L455.5,121.4 L456.5,119.4 L457.4,117.8 L458.1,116.6 L458.8,115.7 L459.5,115.0 L460.2,114.4 L461.0,113.8 L461.8,113.2 L462.6,112.7 L463.5,112.4 L464.3,112.1 L465.2,111.9 L466.1,111.9 L467.0,112.0 L468.0,112.2 L469.0,112.5 L470.0,112.9 L471.0,113.4 L472.0,114.0 L472.9,114.7 L473.9,115.5 L474.8,116.4 L475.7,117.4 L476.6,118.4 L477.4,119.4 L478.2,120.4 L479.0,121.4 L479.8,122.4 L480.6,123.4 L481.3,124.5 L482.0,125.6 L482.7,126.7 L483.3,127.9 L484.0,129.0 L484.6,130.3 L485.2,131.5 L485.8,132.8 L486.4,134.1 L486.9,135.5 L487.5,137.0 L488.0,138.4 L488.5,140.0 L489.0,141.5 L489.5,143.1 L490.0,144.8 L490.5,146.5 L491.0,148.2 L491.4,149.9 L491.9,151.6 L492.3,153.2 L492.7,154.9 L493.1,156.5 L493.5,158.1 L493.9,159.8 L494.3,161.5 L494.8,163.2 L495.2,165.0 L495.7,166.7 L496.3,168.5 L496.8,170.5 L497.3,172.5 L497.8,174.7 L498.4,176.9 L498.9,179.2 L499.4,181.7 L500.0,184.3 L500.6,187.0 L501.2,189.9 L501.9,193.0 L502.6,196.2 L503.3,199.5 L503.9,202.8 L504.6,206.0 L505.2,209.1 L505.8,212.2 L506.4,215.3 L507.0,218.4 L507.6,221.7 L508.2,225.0 L508.8,228.6 L509.5,232.3 L510.1,236.1 L510.8,239.9 L511.4,243.6 L512.0,247.0 L512.6,250.2 L513.2,253.2 L513.7,256.1 L514.3,258.9 L514.8,261.5 L515.3,264.0 L515.8,266.5 L516.3,269.0 L516.8,271.3 L517.2,273.4 L517.5,275.2 L517.8,276.5 Z" fill="rgb(236,148,143)"/>
<path d="M462.0,276.5 L462.5,276.3 L463.1,276.0 L463.8,275.7 L464.6,275.3 L465.4,274.9 L466.0,274.5 L466.5,274.1 L466.9,273.7 L467.2,273.4 L467.5,272.9 L468.0,272.2 L468.5,271.4 L469.2,270.3 L470.0,269.1 L470.8,267.8 L471.7,266.3 L472.6,264.7 L473.5,263.0 L474.3,261.2 L475.2,259.2 L476.0,257.1 L476.9,255.0 L477.7,252.9 L478.6,251.0 L479.4,249.2 L480.2,247.5 L481.1,245.8 L481.9,244.1 L482.8,242.6 L483.7,241.0 L484.7,239.5 L485.8,237.9 L486.9,236.4 L488.1,235.0 L489.3,233.7 L490.4,232.5 L491.5,231.4 L492.5,230.5 L493.6,229.7 L494.7,228.9 L495.9,228.2 L497.2,227.4 L498.7,226.6 L500.3,225.8 L502.0,225.1 L503.8,224.3 L505.6,223.6 L507.3,223.0 L509.0,222.4 L510.6,221.9 L512.2,221.4 L513.9,220.9 L515.7,220.5 L517.5,220.0 L519.4,219.5 L521.4,219.1 L523.5,218.6 L525.7,218.2 L527.8,217.8 L530.0,217.3 L532.1,216.8 L534.2,216.3 L536.4,215.9 L538.6,215.4 L541.1,214.9 L543.8,214.5 L546.9,214.1 L550.3,213.7 L553.9,213.3 L557.5,213.0 L561.2,212.7 L564.8,212.4 L568.4,212.2 L572.2,211.9 L576.0,211.8 L579.7,211.6 L582.9,211.5 L585.7,211.5 L587.8,211.5 L589.4,211.7 L590.7,211.8 L591.7,212.0 L592.8,212.2 L594.0,212.4 L595.3,212.5 L596.5,212.6 L597.8,212.6 L599.0,212.7 L600.4,212.9 L601.8,213.2 L603.4,213.6 L605.1,214.0 L606.8,214.6 L608.6,215.2 L610.4,215.8 L612.2,216.6 L614.0,217.5 L615.8,218.5 L617.6,219.6 L619.4,220.7 L621.1,221.8 L622.7,222.9 L624.2,223.9 L625.7,224.9 L627.0,225.9 L628.4,227.0 L629.7,228.0 L631.1,229.0 L632.5,230.0 L633.9,231.0 L635.3,231.9 L636.7,233.0 L638.1,234.1 L639.5,235.4 L640.9,237.0 L642.3,238.7 L643.7,240.6 L645.1,242.5 L646.5,244.3 L647.9,245.9 L649.2,247.3 L650.5,248.6 L651.8,249.8 L653.1,251.0 L654.6,252.0 L656.2,253.0 L658.1,253.9 L660.3,254.8 L662.6,255.5 L664.9,256.2 L667.0,256.8 L668.8,257.2 L670.2,257.5 L671.2,257.6 L672.1,257.6 L672.9,257.5 L673.9,257.5 L675.0,257.5 L676.4,257.6 L677.9,257.7 L679.5,257.9 L681.2,258.0 L682.8,258.2 L684.4,258.3 L686.0,258.4 L687.6,258.6 L689.2,258.7 L690.8,258.9 L692.3,259.0 L693.7,259.2 L695.0,259.4 L696.2,259.6 L697.3,259.8 L698.3,260.0 L699.3,260.3 L700.3,260.6 L701.2,261.0 L702.1,261.4 L702.9,261.9 L703.6,262.3 L704.3,262.9 L705.0,263.4 L705.6,264.0 L706.2,264.6 L706.7,265.2 L707.2,265.9 L707.7,266.6 L708.2,267.2 L708.7,267.8 L709.1,268.5 L709.5,269.1 L709.9,269.7 L710.2,270.3 L710.6,270.9 L710.9,271.4 L711.2,271.9 L711.5,272.4 L711.8,272.8 L712.1,273.2 L712.5,273.7 L712.9,274.2 L713.5,274.7 L714.0,275.3 L714.5,275.8 L715.0,276.2 L715.3,276.5 Z" fill="rgb(224,149,62)"/>
<path d="M462.0,276.5 L462.5,276.3 L463.1,276.0 L463.8,275.7 L464.6,275.3 L465.4,274.9 L466.0,274.5 L466.5,274.1 L466.9,273.7 L467.2,273.4 L467.5,272.9 L468.0,272.2 L468.5,271.4 L469.2,270.3 L470.0,269.1 L470.8,267.8 L471.7,266.3 L472.6,264.7 L473.5,263.0 L474.3,261.2 L475.2,259.2 L476.0,257.1 L476.9,255.0 L477.7,252.9 L478.6,251.0 L479.4,249.2 L480.2,247.5 L481.1,245.8 L481.9,244.1 L482.8,242.6 L483.7,241.0 L484.7,239.5 L485.8,237.9 L486.9,236.4 L488.1,235.0 L489.3,233.7 L490.4,232.5 L491.5,231.4 L492.5,230.5 L493.6,229.7 L494.7,228.9 L495.9,228.2 L497.2,227.4 L498.7,226.6 L500.3,225.8 L502.0,225.1 L503.8,224.3 L505.6,223.6 L507.3,223.0 L509.0,222.4 L510.6,221.9 L512.2,221.4 L513.9,220.9 L515.7,220.5 L517.5,220.0 L519.4,219.5 L521.4,219.1 L523.5,218.6 L525.7,218.2 L527.8,217.8 L530.0,217.3 L532.1,216.8 L534.2,216.3 L536.4,215.9 L538.6,215.4 L541.1,214.9 L543.8,214.5 L546.9,214.1 L550.3,213.7 L553.9,213.3 L557.5,213.0 L561.2,212.7 L564.8,212.4 L568.4,212.2 L572.2,211.9 L576.0,211.8 L579.7,211.6 L582.9,211.5 L585.7,211.5 L587.8,211.5 L589.4,211.7 L590.7,211.8 L591.7,212.0 L592.8,212.2 L594.0,212.4 L595.3,212.5 L596.5,212.6 L597.8,212.6 L599.0,212.7 L600.4,212.9 L601.8,213.2 L603.4,213.6 L605.1,214.0 L606.8,214.6 L608.6,215.2 L610.4,215.8 L612.2,216.6 L614.0,217.5 L615.8,218.5 L617.6,219.6 L619.4,220.7 L621.1,221.8 L622.7,222.9 L624.2,223.9 L625.7,224.9 L627.0,225.9 L628.4,227.0 L629.7,228.0 L631.1,229.0 L632.5,230.0 L633.9,231.0 L635.3,231.9 L636.7,233.0 L638.1,234.1 L639.5,235.4 L640.9,237.0 L642.3,238.7 L643.7,240.6 L645.1,242.5 L646.5,244.3 L647.9,245.9 L649.2,247.3 L650.5,248.6 L651.8,249.8 L653.1,251.0 L654.6,252.0 L656.2,253.0 L658.1,253.9 L660.3,254.8 L662.6,255.5 L664.9,256.2 L667.0,256.8 L668.8,257.2 L670.2,257.5 L671.2,257.6 L672.1,257.6 L672.9,257.5 L673.9,257.5 L675.0,257.5 L676.4,257.6 L677.9,257.7 L679.5,257.9 L681.2,258.0 L682.8,258.2 L684.4,258.3 L686.0,258.4 L687.6,258.6 L689.2,258.7 L690.8,258.9 L692.3,259.0 L693.7,259.2 L695.0,259.4 L696.2,259.6 L697.3,259.8 L698.3,260.0 L699.3,260.3 L700.3,260.6 L701.2,261.0 L702.1,261.4 L702.9,261.9 L703.6,262.3 L704.3,262.9 L705.0,263.4 L705.6,264.0 L706.2,264.6 L706.7,265.2 L707.2,265.9 L707.7,266.6 L708.2,267.2 L708.7,267.8 L709.1,268.5 L709.5,269.1 L709.9,269.7 L710.2,270.3 L710.6,270.9 L710.9,271.4 L711.2,271.9 L711.5,272.4 L711.8,272.8 L712.1,273.2 L712.5,273.7 L712.9,274.2 L713.5,274.7 L714.0,275.3 L714.5,275.8 L715.0,276.2 L715.3,276.5 Z" fill="rgb(238,134,40)" clip-path="url(#cr3)"/>
<path d="M467.3,276.5 L467.4,276.0 L467.5,275.4 L467.7,274.7 L467.9,273.8 L468.2,272.7 L468.5,271.4 L468.9,269.9 L469.4,268.1 L470.0,266.2 L470.6,264.1 L471.2,261.9 L471.8,259.5 L472.4,257.0 L472.9,254.2 L473.5,251.4 L474.1,248.4 L474.6,245.5 L475.2,242.6 L475.7,239.7 L476.3,236.8 L476.8,233.9 L477.3,231.1 L477.9,228.3 L478.6,225.7 L479.3,223.2 L480.1,220.8 L480.9,218.5 L481.8,216.3 L482.7,214.2 L483.7,212.2 L484.7,210.3 L485.8,208.4 L486.9,206.6 L488.1,205.0 L489.3,203.4 L490.4,202.0 L491.5,200.7 L492.7,199.6 L493.8,198.7 L494.9,197.8 L496.1,196.9 L497.2,196.0 L498.3,195.1 L499.3,194.3 L500.4,193.6 L501.5,192.8 L502.7,192.0 L504.0,191.2 L505.5,190.3 L507.1,189.4 L508.8,188.4 L510.6,187.5 L512.4,186.6 L514.1,185.8 L515.8,185.1 L517.4,184.4 L519.1,183.8 L520.8,183.2 L522.5,182.7 L524.3,182.2 L526.2,181.7 L528.1,181.2 L530.0,180.7 L532.0,180.2 L534.0,179.9 L536.0,179.8 L538.0,179.8 L540.0,180.0 L541.9,180.3 L543.9,180.7 L546.0,181.1 L548.0,181.6 L550.1,182.1 L552.2,182.7 L554.3,183.4 L556.4,184.1 L558.5,185.0 L560.6,186.0 L562.7,187.2 L564.9,188.5 L567.0,189.9 L569.2,191.4 L571.2,192.9 L573.2,194.4 L575.1,195.9 L576.9,197.5 L578.7,199.1 L580.4,200.8 L582.0,202.4 L583.6,204.0 L585.1,205.5 L586.4,207.0 L587.7,208.5 L588.9,210.0 L590.1,211.7 L591.3,213.5 L592.4,215.5 L593.5,217.6 L594.5,219.8 L595.6,222.1 L596.6,224.5 L597.6,227.0 L598.7,229.6 L599.7,232.4 L600.8,235.2 L601.9,238.1 L602.9,241.0 L603.9,243.8 L604.9,246.6 L605.8,249.4 L606.7,252.3 L607.6,255.1 L608.4,257.9 L609.3,260.6 L610.2,263.5 L611.2,266.6 L612.1,269.6 L613.0,272.4 L613.8,274.8 L614.3,276.5 Z" fill="rgb(108,133,232)"/>
<path d="M467.3,276.5 L467.4,276.0 L467.5,275.4 L467.7,274.7 L467.9,273.8 L468.2,272.7 L468.5,271.4 L468.9,269.9 L469.4,268.1 L470.0,266.2 L470.6,264.1 L471.2,261.9 L471.8,259.5 L472.4,257.0 L472.9,254.2 L473.5,251.4 L474.1,248.4 L474.6,245.5 L475.2,242.6 L475.7,239.7 L476.3,236.8 L476.8,233.9 L477.3,231.1 L477.9,228.3 L478.6,225.7 L479.3,223.2 L480.1,220.8 L480.9,218.5 L481.8,216.3 L482.7,214.2 L483.7,212.2 L484.7,210.3 L485.8,208.4 L486.9,206.6 L488.1,205.0 L489.3,203.4 L490.4,202.0 L491.5,200.7 L492.7,199.6 L493.8,198.7 L494.9,197.8 L496.1,196.9 L497.2,196.0 L498.3,195.1 L499.3,194.3 L500.4,193.6 L501.5,192.8 L502.7,192.0 L504.0,191.2 L505.5,190.3 L507.1,189.4 L508.8,188.4 L510.6,187.5 L512.4,186.6 L514.1,185.8 L515.8,185.1 L517.4,184.4 L519.1,183.8 L520.8,183.2 L522.5,182.7 L524.3,182.2 L526.2,181.7 L528.1,181.2 L530.0,180.7 L532.0,180.2 L534.0,179.9 L536.0,179.8 L538.0,179.8 L540.0,180.0 L541.9,180.3 L543.9,180.7 L546.0,181.1 L548.0,181.6 L550.1,182.1 L552.2,182.7 L554.3,183.4 L556.4,184.1 L558.5,185.0 L560.6,186.0 L562.7,187.2 L564.9,188.5 L567.0,189.9 L569.2,191.4 L571.2,192.9 L573.2,194.4 L575.1,195.9 L576.9,197.5 L578.7,199.1 L580.4,200.8 L582.0,202.4 L583.6,204.0 L585.1,205.5 L586.4,207.0 L587.7,208.5 L588.9,210.0 L590.1,211.7 L591.3,213.5 L592.4,215.5 L593.5,217.6 L594.5,219.8 L595.6,222.1 L596.6,224.5 L597.6,227.0 L598.7,229.6 L599.7,232.4 L600.8,235.2 L601.9,238.1 L602.9,241.0 L603.9,243.8 L604.9,246.6 L605.8,249.4 L606.7,252.3 L607.6,255.1 L608.4,257.9 L609.3,260.6 L610.2,263.5 L611.2,266.6 L612.1,269.6 L613.0,272.4 L613.8,274.8 L614.3,276.5 Z" fill="rgb(116,95,195)" clip-path="url(#cr3)"/>
<path d="M467.3,276.5 L467.4,276.0 L467.5,275.4 L467.7,274.7 L467.9,273.8 L468.2,272.7 L468.5,271.4 L468.9,269.9 L469.4,268.1 L470.0,266.2 L470.6,264.1 L471.2,261.9 L471.8,259.5 L472.4,257.0 L472.9,254.2 L473.5,251.4 L474.1,248.4 L474.6,245.5 L475.2,242.6 L475.7,239.7 L476.3,236.8 L476.8,233.9 L477.3,231.1 L477.9,228.3 L478.6,225.7 L479.3,223.2 L480.1,220.8 L480.9,218.5 L481.8,216.3 L482.7,214.2 L483.7,212.2 L484.7,210.3 L485.8,208.4 L486.9,206.6 L488.1,205.0 L489.3,203.4 L490.4,202.0 L491.5,200.7 L492.7,199.6 L493.8,198.7 L494.9,197.8 L496.1,196.9 L497.2,196.0 L498.3,195.1 L499.3,194.3 L500.4,193.6 L501.5,192.8 L502.7,192.0 L504.0,191.2 L505.5,190.3 L507.1,189.4 L508.8,188.4 L510.6,187.5 L512.4,186.6 L514.1,185.8 L515.8,185.1 L517.4,184.4 L519.1,183.8 L520.8,183.2 L522.5,182.7 L524.3,182.2 L526.2,181.7 L528.1,181.2 L530.0,180.7 L532.0,180.2 L534.0,179.9 L536.0,179.8 L538.0,179.8 L540.0,180.0 L541.9,180.3 L543.9,180.7 L546.0,181.1 L548.0,181.6 L550.1,182.1 L552.2,182.7 L554.3,183.4 L556.4,184.1 L558.5,185.0 L560.6,186.0 L562.7,187.2 L564.9,188.5 L567.0,189.9 L569.2,191.4 L571.2,192.9 L573.2,194.4 L575.1,195.9 L576.9,197.5 L578.7,199.1 L580.4,200.8 L582.0,202.4 L583.6,204.0 L585.1,205.5 L586.4,207.0 L587.7,208.5 L588.9,210.0 L590.1,211.7 L591.3,213.5 L592.4,215.5 L593.5,217.6 L594.5,219.8 L595.6,222.1 L596.6,224.5 L597.6,227.0 L598.7,229.6 L599.7,232.4 L600.8,235.2 L601.9,238.1 L602.9,241.0 L603.9,243.8 L604.9,246.6 L605.8,249.4 L606.7,252.3 L607.6,255.1 L608.4,257.9 L609.3,260.6 L610.2,263.5 L611.2,266.6 L612.1,269.6 L613.0,272.4 L613.8,274.8 L614.3,276.5 Z" fill="rgb(109,97,155)" clip-path="url(#co3)"/>
<g clip-path="url(#cr3)"><path d="M467.3,276.5 L467.4,276.0 L467.5,275.4 L467.7,274.7 L467.9,273.8 L468.2,272.7 L468.5,271.4 L468.9,269.9 L469.4,268.1 L470.0,266.2 L470.6,264.1 L471.2,261.9 L471.8,259.5 L472.4,257.0 L472.9,254.2 L473.5,251.4 L474.1,248.4 L474.6,245.5 L475.2,242.6 L475.7,239.7 L476.3,236.8 L476.8,233.9 L477.3,231.1 L477.9,228.3 L478.6,225.7 L479.3,223.2 L480.1,220.8 L480.9,218.5 L481.8,216.3 L482.7,214.2 L483.7,212.2 L484.7,210.3 L485.8,208.4 L486.9,206.6 L488.1,205.0 L489.3,203.4 L490.4,202.0 L491.5,200.7 L492.7,199.6 L493.8,198.7 L494.9,197.8 L496.1,196.9 L497.2,196.0 L498.3,195.1 L499.3,194.3 L500.4,193.6 L501.5,192.8 L502.7,192.0 L504.0,191.2 L505.5,190.3 L507.1,189.4 L508.8,188.4 L510.6,187.5 L512.4,186.6 L514.1,185.8 L515.8,185.1 L517.4,184.4 L519.1,183.8 L520.8,183.2 L522.5,182.7 L524.3,182.2 L526.2,181.7 L528.1,181.2 L530.0,180.7 L532.0,180.2 L534.0,179.9 L536.0,179.8 L538.0,179.8 L540.0,180.0 L541.9,180.3 L543.9,180.7 L546.0,181.1 L548.0,181.6 L550.1,182.1 L552.2,182.7 L554.3,183.4 L556.4,184.1 L558.5,185.0 L560.6,186.0 L562.7,187.2 L564.9,188.5 L567.0,189.9 L569.2,191.4 L571.2,192.9 L573.2,194.4 L575.1,195.9 L576.9,197.5 L578.7,199.1 L580.4,200.8 L582.0,202.4 L583.6,204.0 L585.1,205.5 L586.4,207.0 L587.7,208.5 L588.9,210.0 L590.1,211.7 L591.3,213.5 L592.4,215.5 L593.5,217.6 L594.5,219.8 L595.6,222.1 L596.6,224.5 L597.6,227.0 L598.7,229.6 L599.7,232.4 L600.8,235.2 L601.9,238.1 L602.9,241.0 L603.9,243.8 L604.9,246.6 L605.8,249.4 L606.7,252.3 L607.6,255.1 L608.4,257.9 L609.3,260.6 L610.2,263.5 L611.2,266.6 L612.1,269.6 L613.0,272.4 L613.8,274.8 L614.3,276.5 Z" fill="rgb(118,91,148)" clip-path="url(#co3)"/></g>
<rect x="32.8" y="3.5" width="98.5" height="273.0" fill="none" stroke="#3c3c3c" stroke-width="1"/>
<line x1="29.3" y1="276.5" x2="32.8" y2="276.5" stroke="#3c3c3c" stroke-width="1"/>
<text x="23.8" y="280.7" font-size="11.0" text-anchor="end" fill="#000">0</text>
<line x1="29.3" y1="249.2" x2="32.8" y2="249.2" stroke="#3c3c3c" stroke-width="1"/>
<text x="23.8" y="253.4" font-size="11.0" text-anchor="end" fill="#000">1</text>
<line x1="29.3" y1="221.9" x2="32.8" y2="221.9" stroke="#3c3c3c" stroke-width="1"/>
<text x="23.8" y="226.1" font-size="11.0" text-anchor="end" fill="#000">2</text>
<line x1="29.3" y1="194.6" x2="32.8" y2="194.6" stroke="#3c3c3c" stroke-width="1"/>
<text x="23.8" y="198.8" font-size="11.0" text-anchor="end" fill="#000">3</text>
<line x1="29.3" y1="167.3" x2="32.8" y2="167.3" stroke="#3c3c3c" stroke-width="1"/>
<text x="23.8" y="171.5" font-size="11.0" text-anchor="end" fill="#000">4</text>
<line x1="29.3" y1="140.0" x2="32.8" y2="140.0" stroke="#3c3c3c" stroke-width="1"/>
<text x="23.8" y="144.2" font-size="11.0" text-anchor="end" fill="#000">5</text>
<line x1="29.3" y1="112.7" x2="32.8" y2="112.7" stroke="#3c3c3c" stroke-width="1"/>
<text x="23.8" y="116.9" font-size="11.0" text-anchor="end" fill="#000">6</text>
<line x1="29.3" y1="85.4" x2="32.8" y2="85.4" stroke="#3c3c3c" stroke-width="1"/>
<text x="23.8" y="89.6" font-size="11.0" text-anchor="end" fill="#000">7</text>
<line x1="29.3" y1="58.1" x2="32.8" y2="58.1" stroke="#3c3c3c" stroke-width="1"/>
<text x="23.8" y="62.3" font-size="11.0" text-anchor="end" fill="#000">8</text>
<line x1="29.3" y1="30.8" x2="32.8" y2="30.8" stroke="#3c3c3c" stroke-width="1"/>
<text x="23.8" y="35.0" font-size="11.0" text-anchor="end" fill="#000">9</text>
<line x1="29.3" y1="3.5" x2="32.8" y2="3.5" stroke="#3c3c3c" stroke-width="1"/>
<text x="23.8" y="7.7" font-size="11.0" text-anchor="end" fill="#000">10</text>
<line x1="32.8" y1="276.5" x2="32.8" y2="280.1" stroke="#3c3c3c" stroke-width="1"/>
<text x="32.8" y="293.9" font-size="11.0" text-anchor="middle" fill="#000">10</text>
<line x1="52.5" y1="276.5" x2="52.5" y2="280.1" stroke="#3c3c3c" stroke-width="1"/>
<text x="52.5" y="293.9" font-size="11.0" text-anchor="middle" fill="#000">20</text>
<line x1="72.2" y1="276.5" x2="72.2" y2="280.1" stroke="#3c3c3c" stroke-width="1"/>
<text x="72.2" y="293.9" font-size="11.0" text-anchor="middle" fill="#000">30</text>
<line x1="91.9" y1="276.5" x2="91.9" y2="280.1" stroke="#3c3c3c" stroke-width="1"/>
<text x="91.9" y="293.9" font-size="11.0" text-anchor="middle" fill="#000">40</text>
<line x1="111.6" y1="276.5" x2="111.6" y2="280.1" stroke="#3c3c3c" stroke-width="1"/>
<text x="111.6" y="293.9" font-size="11.0" text-anchor="middle" fill="#000">50</text>
<line x1="131.3" y1="276.5" x2="131.3" y2="280.1" stroke="#3c3c3c" stroke-width="1"/>
<text x="131.3" y="293.9" font-size="11.0" text-anchor="middle" fill="#000">60</text>
<rect x="158.9" y="3.5" width="216.4" height="273.0" fill="none" stroke="#3c3c3c" stroke-width="1"/>
<line x1="155.4" y1="276.5" x2="158.9" y2="276.5" stroke="#3c3c3c" stroke-width="1"/>
<text x="149.9" y="280.7" font-size="11.0" text-anchor="end" fill="#000">0</text>
<line x1="155.4" y1="221.9" x2="158.9" y2="221.9" stroke="#3c3c3c" stroke-width="1"/>
<text x="149.9" y="226.1" font-size="11.0" text-anchor="end" fill="#000">1</text>
<line x1="155.4" y1="167.3" x2="158.9" y2="167.3" stroke="#3c3c3c" stroke-width="1"/>
<text x="149.9" y="171.5" font-size="11.0" text-anchor="end" fill="#000">2</text>
<line x1="155.4" y1="112.7" x2="158.9" y2="112.7" stroke="#3c3c3c" stroke-width="1"/>
<text x="149.9" y="116.9" font-size="11.0" text-anchor="end" fill="#000">3</text>
<line x1="155.4" y1="58.1" x2="158.9" y2="58.1" stroke="#3c3c3c" stroke-width="1"/>
<text x="149.9" y="62.3" font-size="11.0" text-anchor="end" fill="#000">4</text>
<line x1="155.4" y1="3.5" x2="158.9" y2="3.5" stroke="#3c3c3c" stroke-width="1"/>
<text x="149.9" y="7.7" font-size="11.0" text-anchor="end" fill="#000">5</text>
<line x1="158.9" y1="276.5" x2="158.9" y2="280.1" stroke="#3c3c3c" stroke-width="1"/>
<text x="158.9" y="293.9" font-size="11.0" text-anchor="middle" fill="#000">20</text>
<line x1="178.6" y1="276.5" x2="178.6" y2="280.1" stroke="#3c3c3c" stroke-width="1"/>
<text x="178.6" y="293.9" font-size="11.0" text-anchor="middle" fill="#000">30</text>
<line x1="198.2" y1="276.5" x2="198.2" y2="280.1" stroke="#3c3c3c" stroke-width="1"/>
<text x="198.2" y="293.9" font-size="11.0" text-anchor="middle" fill="#000">40</text>
<line x1="217.9" y1="276.5" x2="217.9" y2="280.1" stroke="#3c3c3c" stroke-width="1"/>
<text x="217.9" y="293.9" font-size="11.0" text-anchor="middle" fill="#000">50</text>
<line x1="237.6" y1="276.5" x2="237.6" y2="280.1" stroke="#3c3c3c" stroke-width="1"/>
<text x="237.6" y="293.9" font-size="11.0" text-anchor="middle" fill="#000">60</text>
<line x1="257.3" y1="276.5" x2="257.3" y2="280.1" stroke="#3c3c3c" stroke-width="1"/>
<text x="257.3" y="293.9" font-size="11.0" text-anchor="middle" fill="#000">70</text>
<line x1="276.9" y1="276.5" x2="276.9" y2="280.1" stroke="#3c3c3c" stroke-width="1"/>
<text x="276.9" y="293.9" font-size="11.0" text-anchor="middle" fill="#000">80</text>
<line x1="296.6" y1="276.5" x2="296.6" y2="280.1" stroke="#3c3c3c" stroke-width="1"/>
<text x="296.6" y="293.9" font-size="11.0" text-anchor="middle" fill="#000">90</text>
<line x1="316.3" y1="276.5" x2="316.3" y2="280.1" stroke="#3c3c3c" stroke-width="1"/>
<text x="316.3" y="293.9" font-size="11.0" text-anchor="middle" fill="#000">100</text>
<line x1="336.0" y1="276.5" x2="336.0" y2="280.1" stroke="#3c3c3c" stroke-width="1"/>
<text x="336.0" y="293.9" font-size="11.0" text-anchor="middle" fill="#000">110</text>
<line x1="355.6" y1="276.5" x2="355.6" y2="280.1" stroke="#3c3c3c" stroke-width="1"/>
<text x="355.6" y="293.9" font-size="11.0" text-anchor="middle" fill="#000">120</text>
<line x1="375.3" y1="276.5" x2="375.3" y2="280.1" stroke="#3c3c3c" stroke-width="1"/>
<text x="375.3" y="293.9" font-size="11.0" text-anchor="middle" fill="#000">130</text>
<rect x="402.4" y="3.5" width="313.8" height="273.0" fill="none" stroke="#3c3c3c" stroke-width="1"/>
<line x1="398.9" y1="276.5" x2="402.4" y2="276.5" stroke="#3c3c3c" stroke-width="1"/>
<text x="393.4" y="280.7" font-size="11.0" text-anchor="end" fill="#000">0</text>
<line x1="398.9" y1="221.9" x2="402.4" y2="221.9" stroke="#3c3c3c" stroke-width="1"/>
<text x="393.4" y="226.1" font-size="11.0" text-anchor="end" fill="#000">1</text>
<line x1="398.9" y1="167.3" x2="402.4" y2="167.3" stroke="#3c3c3c" stroke-width="1"/>
<text x="393.4" y="171.5" font-size="11.0" text-anchor="end" fill="#000">2</text>
<line x1="398.9" y1="112.7" x2="402.4" y2="112.7" stroke="#3c3c3c" stroke-width="1"/>
<text x="393.4" y="116.9" font-size="11.0" text-anchor="end" fill="#000">3</text>
<line x1="398.9" y1="58.1" x2="402.4" y2="58.1" stroke="#3c3c3c" stroke-width="1"/>
<text x="393.4" y="62.3" font-size="11.0" text-anchor="end" fill="#000">4</text>
<line x1="398.9" y1="3.5" x2="402.4" y2="3.5" stroke="#3c3c3c" stroke-width="1"/>
<text x="393.4" y="7.7" font-size="11.0" text-anchor="end" fill="#000">5</text>
<line x1="402.4" y1="276.5" x2="402.4" y2="280.1" stroke="#3c3c3c" stroke-width="1"/>
<text x="402.4" y="293.9" font-size="11.0" text-anchor="middle" fill="#000">20</text>
<line x1="422.0" y1="276.5" x2="422.0" y2="280.1" stroke="#3c3c3c" stroke-width="1"/>
<text x="422.0" y="293.9" font-size="11.0" text-anchor="middle" fill="#000">30</text>
<line x1="441.6" y1="276.5" x2="441.6" y2="280.1" stroke="#3c3c3c" stroke-width="1"/>
<text x="441.6" y="293.9" font-size="11.0" text-anchor="middle" fill="#000">40</text>
<line x1="461.2" y1="276.5" x2="461.2" y2="280.1" stroke="#3c3c3c" stroke-width="1"/>
<text x="461.2" y="293.9" font-size="11.0" text-anchor="middle" fill="#000">50</text>
<line x1="480.9" y1="276.5" x2="480.9" y2="280.1" stroke="#3c3c3c" stroke-width="1"/>
<text x="480.9" y="293.9" font-size="11.0" text-anchor="middle" fill="#000">60</text>
<line x1="500.5" y1="276.5" x2="500.5" y2="280.1" stroke="#3c3c3c" stroke-width="1"/>
<text x="500.5" y="293.9" font-size="11.0" text-anchor="middle" fill="#000">70</text>
<line x1="520.1" y1="276.5" x2="520.1" y2="280.1" stroke="#3c3c3c" stroke-width="1"/>
<text x="520.1" y="293.9" font-size="11.0" text-anchor="middle" fill="#000">80</text>
<line x1="539.7" y1="276.5" x2="539.7" y2="280.1" stroke="#3c3c3c" stroke-width="1"/>
<text x="539.7" y="293.9" font-size="11.0" text-anchor="middle" fill="#000">90</text>
<line x1="559.3" y1="276.5" x2="559.3" y2="280.1" stroke="#3c3c3c" stroke-width="1"/>
<text x="559.3" y="293.9" font-size="11.0" text-anchor="middle" fill="#000">100</text>
<line x1="578.9" y1="276.5" x2="578.9" y2="280.1" stroke="#3c3c3c" stroke-width="1"/>
<text x="578.9" y="293.9" font-size="11.0" text-anchor="middle" fill="#000">110</text>
<line x1="598.5" y1="276.5" x2="598.5" y2="280.1" stroke="#3c3c3c" stroke-width="1"/>
<text x="598.5" y="293.9" font-size="11.0" text-anchor="middle" fill="#000">120</text>
<line x1="618.1" y1="276.5" x2="618.1" y2="280.1" stroke="#3c3c3c" stroke-width="1"/>
<text x="618.1" y="293.9" font-size="11.0" text-anchor="middle" fill="#000">130</text>
<line x1="637.8" y1="276.5" x2="637.8" y2="280.1" stroke="#3c3c3c" stroke-width="1"/>
<text x="637.8" y="293.9" font-size="11.0" text-anchor="middle" fill="#000">140</text>
<line x1="657.4" y1="276.5" x2="657.4" y2="280.1" stroke="#3c3c3c" stroke-width="1"/>
<text x="657.4" y="293.9" font-size="11.0" text-anchor="middle" fill="#000">150</text>
<line x1="677.0" y1="276.5" x2="677.0" y2="280.1" stroke="#3c3c3c" stroke-width="1"/>
<text x="677.0" y="293.9" font-size="11.0" text-anchor="middle" fill="#000">160</text>
<line x1="696.6" y1="276.5" x2="696.6" y2="280.1" stroke="#3c3c3c" stroke-width="1"/>
<text x="696.6" y="293.9" font-size="11.0" text-anchor="middle" fill="#000">170</text>
<line x1="716.2" y1="276.5" x2="716.2" y2="280.1" stroke="#3c3c3c" stroke-width="1"/>
<text x="716.2" y="293.9" font-size="11.0" text-anchor="middle" fill="#000">180</text>
<text x="78.9" y="307.5" font-size="11" font-weight="bold" text-anchor="middle" fill="#000">Particle Diameter (nm)</text>
<text x="269.8" y="307.5" font-size="11" font-weight="bold" text-anchor="middle" fill="#000">Particle Diameter (nm)</text>
<text x="564.4" y="307.5" font-size="11" font-weight="bold" text-anchor="middle" fill="#000">Particle Diameter (nm)</text>
<text transform="translate(9.6,181.8) rotate(-90)" font-size="11.2" font-weight="bold" fill="#000">% (N/N<tspan font-size="7.2" dy="2">total</tspan><tspan dy="-2">×100 )</tspan></text>
<text x="33.2" y="17.8" font-size="16.4" fill="#000">100x</text>
<text x="164.6" y="17.8" font-size="16.4" fill="#000">1000x</text>
<text x="410.7" y="17.7" font-size="16.4" fill="#000">10000x Metallicity</text>
<rect x="81.3" y="6.1" width="7" height="7" fill="#fba2a2"/>
<text x="91.0" y="15.6" font-size="14" fill="#000">600 K</text>
<rect x="81.3" y="20.7" width="7" height="7" fill="#f2a545"/>
<text x="91.0" y="30.2" font-size="14" fill="#000">400 K</text>
<rect x="81.3" y="35.3" width="7" height="7" fill="#7088f8"/>
<text x="91.0" y="44.8" font-size="14" fill="#000">300 K</text>
<rect x="326.1" y="6.1" width="7" height="7" fill="#fba2a2"/>
<text x="335.9" y="15.6" font-size="14" fill="#000">600 K</text>
<rect x="326.1" y="20.7" width="7" height="7" fill="#f2a545"/>
<text x="335.9" y="30.2" font-size="14" fill="#000">400 K</text>
<rect x="326.1" y="35.3" width="7" height="7" fill="#7088f8"/>
<text x="335.9" y="44.8" font-size="14" fill="#000">300 K</text>
<rect x="664.8" y="6.1" width="7" height="7" fill="#fba2a2"/>
<text x="673.6" y="15.6" font-size="14" fill="#000">600 K</text>
<rect x="664.8" y="20.7" width="7" height="7" fill="#eb9b3e"/>
<text x="673.6" y="30.2" font-size="14" fill="#000">400 K</text>
<rect x="664.8" y="35.3" width="7" height="7" fill="#7088f8"/>
<text x="673.6" y="44.8" font-size="14" fill="#000">300 K</text>
</svg>
</body></html>
